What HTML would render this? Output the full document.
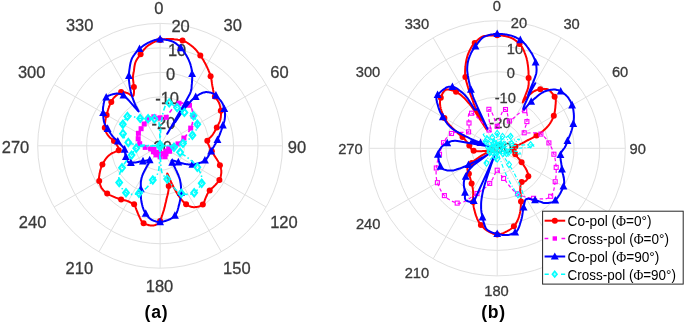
<!DOCTYPE html>
<html><head><meta charset="utf-8"><style>html,body{margin:0;padding:0;background:#fff;}svg{display:block;}</style></head>
<body><svg width="685" height="325" viewBox="0 0 685 325">
<rect width="685" height="325" fill="#fff"/>
<g fill="none" stroke="#e0e0e0" stroke-width="1"><ellipse cx="160.1" cy="145.8" rx="24.48" ry="24.48"/><ellipse cx="160.1" cy="145.8" rx="48.96" ry="48.96"/><ellipse cx="160.1" cy="145.8" rx="73.44" ry="73.44"/><ellipse cx="160.1" cy="145.8" rx="97.92" ry="97.92"/><ellipse cx="160.1" cy="145.8" rx="122.40" ry="122.40"/><line x1="160.1" y1="145.8" x2="160.10" y2="23.40"/><line x1="160.1" y1="145.8" x2="221.30" y2="39.80"/><line x1="160.1" y1="145.8" x2="266.10" y2="84.60"/><line x1="160.1" y1="145.8" x2="282.50" y2="145.80"/><line x1="160.1" y1="145.8" x2="266.10" y2="207.00"/><line x1="160.1" y1="145.8" x2="221.30" y2="251.80"/><line x1="160.1" y1="145.8" x2="160.10" y2="268.20"/><line x1="160.1" y1="145.8" x2="98.90" y2="251.80"/><line x1="160.1" y1="145.8" x2="54.10" y2="207.00"/><line x1="160.1" y1="145.8" x2="37.70" y2="145.80"/><line x1="160.1" y1="145.8" x2="54.10" y2="84.60"/><line x1="160.1" y1="145.8" x2="98.90" y2="39.80"/></g><g fill="none" stroke="#e0e0e0" stroke-width="1"><ellipse cx="497.2" cy="148.3" rx="25.62" ry="25.52"/><ellipse cx="497.2" cy="148.3" rx="51.24" ry="51.04"/><ellipse cx="497.2" cy="148.3" rx="76.86" ry="76.56"/><ellipse cx="497.2" cy="148.3" rx="102.48" ry="102.08"/><ellipse cx="497.2" cy="148.3" rx="128.10" ry="127.60"/><line x1="497.2" y1="148.3" x2="497.20" y2="20.70"/><line x1="497.2" y1="148.3" x2="561.25" y2="37.80"/><line x1="497.2" y1="148.3" x2="608.14" y2="84.50"/><line x1="497.2" y1="148.3" x2="625.30" y2="148.30"/><line x1="497.2" y1="148.3" x2="608.14" y2="212.10"/><line x1="497.2" y1="148.3" x2="561.25" y2="258.80"/><line x1="497.2" y1="148.3" x2="497.20" y2="275.90"/><line x1="497.2" y1="148.3" x2="433.15" y2="258.80"/><line x1="497.2" y1="148.3" x2="386.26" y2="212.10"/><line x1="497.2" y1="148.3" x2="369.10" y2="148.30"/><line x1="497.2" y1="148.3" x2="386.26" y2="84.50"/><line x1="497.2" y1="148.3" x2="433.15" y2="37.80"/></g><g font-family="Liberation Sans, Arial, sans-serif" font-size="17.2" fill="#3a3a3a" stroke="#3a3a3a" stroke-width="0.3" text-anchor="middle"><text transform="translate(158.90,13.51) scale(0.96,1)" x="0" y="0">0</text><text transform="translate(232.70,30.86) scale(0.96,1)" x="0" y="0">30</text><text transform="translate(279.50,78.36) scale(0.96,1)" x="0" y="0">60</text><text transform="translate(297.00,153.06) scale(0.96,1)" x="0" y="0">90</text><text transform="translate(283.90,228.06) scale(0.96,1)" x="0" y="0">120</text><text transform="translate(236.80,274.46) scale(0.96,1)" x="0" y="0">150</text><text transform="translate(159.50,292.01) scale(0.96,1)" x="0" y="0">180</text><text transform="translate(79.30,274.46) scale(0.96,1)" x="0" y="0">210</text><text transform="translate(32.60,228.06) scale(0.96,1)" x="0" y="0">240</text><text transform="translate(15.50,153.06) scale(0.96,1)" x="0" y="0">270</text><text transform="translate(31.70,78.36) scale(0.96,1)" x="0" y="0">300</text><text transform="translate(79.70,31.16) scale(0.96,1)" x="0" y="0">330</text><text transform="translate(180.60,32.16) scale(0.96,1)" x="0" y="0">20</text><text transform="translate(177.10,56.46) scale(0.96,1)" x="0" y="0">10</text><text transform="translate(170.70,80.46) scale(0.96,1)" x="0" y="0">0</text><text transform="translate(167.10,104.06) scale(0.96,1)" x="0" y="0">-10</text><text transform="translate(163.40,129.36) scale(0.96,1)" x="0" y="0">-20</text><text transform="translate(160.00,153.16) scale(0.96,1)" x="0" y="0">-30</text></g><g font-family="Liberation Sans, Arial, sans-serif" font-size="15.0" fill="#3a3a3a" stroke="#3a3a3a" stroke-width="0.3" text-anchor="middle"><text transform="translate(496.90,11.47) scale(0.98,1)" x="0" y="0">0</text><text transform="translate(571.60,28.77) scale(0.98,1)" x="0" y="0">30</text><text transform="translate(620.10,76.97) scale(0.98,1)" x="0" y="0">60</text><text transform="translate(637.70,153.97) scale(0.98,1)" x="0" y="0">90</text><text transform="translate(624.30,229.37) scale(0.98,1)" x="0" y="0">120</text><text transform="translate(575.60,278.37) scale(0.98,1)" x="0" y="0">150</text><text transform="translate(496.50,295.57) scale(0.98,1)" x="0" y="0">180</text><text transform="translate(416.90,277.77) scale(0.98,1)" x="0" y="0">210</text><text transform="translate(368.20,229.47) scale(0.98,1)" x="0" y="0">240</text><text transform="translate(350.40,154.17) scale(0.98,1)" x="0" y="0">270</text><text transform="translate(368.00,76.67) scale(0.98,1)" x="0" y="0">300</text><text transform="translate(416.90,28.87) scale(0.98,1)" x="0" y="0">330</text><text transform="translate(518.90,27.77) scale(0.98,1)" x="0" y="0">20</text><text transform="translate(515.00,53.97) scale(0.98,1)" x="0" y="0">10</text><text transform="translate(510.80,77.77) scale(0.98,1)" x="0" y="0">0</text><text transform="translate(505.30,103.27) scale(0.98,1)" x="0" y="0">-10</text><text transform="translate(500.00,128.07) scale(0.98,1)" x="0" y="0">-20</text><text transform="translate(501.00,152.87) scale(0.98,1)" x="0" y="0">-30</text></g><path d="M160.1,40.1 161.0,39.9 162.0,39.7 162.9,39.6 163.8,39.4 164.7,39.3 165.7,39.2 166.6,39.1 167.6,39.1 168.5,39.0 169.4,39.0 170.4,39.0 171.3,39.0 172.3,39.1 173.2,39.1 173.7,39.2 174.1,39.3 175.1,39.4 176.0,39.5 176.9,39.6 177.8,39.8 178.8,39.9 179.7,40.1 180.6,40.3 181.5,40.4 182.3,40.6 182.5,40.6 183.4,40.9 184.3,41.2 185.1,41.6 186.0,42.0 186.8,42.5 187.6,43.0 188.5,43.6 189.3,44.1 190.0,44.7 190.8,45.3 191.6,45.9 192.1,46.3 192.4,46.5 193.1,47.1 193.8,47.8 194.6,48.5 195.3,49.2 195.9,49.9 196.6,50.7 197.2,51.5 197.9,52.3 198.5,53.1 199.1,53.9 199.7,54.7 200.3,55.5 200.3,55.5 200.9,56.3 201.4,57.1 202.0,58.0 202.5,58.8 203.1,59.6 203.6,60.5 204.1,61.4 204.5,62.2 205.0,63.1 205.5,64.0 205.9,64.8 206.3,65.7 206.4,65.8 206.8,66.6 207.2,67.4 207.6,68.3 208.0,69.2 208.4,70.0 208.7,70.9 209.1,71.8 209.4,72.7 209.8,73.6 210.1,74.4 210.4,75.3 210.6,76.3 210.7,76.5 210.9,77.2 211.1,78.1 211.3,79.1 211.5,80.0 211.6,81.0 211.8,82.0 211.9,83.0 212.0,83.9 212.2,84.8 212.3,85.7 212.5,86.6 212.6,87.2 212.7,87.4 212.8,88.3 213.0,89.1 213.1,89.9 213.3,90.7 213.4,91.6 213.5,92.4 213.7,93.1 213.9,93.9 214.1,94.6 214.3,95.3 214.6,95.9 214.9,96.5 215.0,96.7 215.2,97.0 215.6,97.6 215.9,98.1 216.3,98.6 216.7,99.2 217.1,99.7 217.4,100.2 217.8,100.7 218.1,101.3 218.4,101.8 218.7,102.3 218.8,102.4 219.0,103.0 219.3,103.6 219.5,104.2 219.7,104.8 219.9,105.5 220.1,106.1 220.2,106.8 220.3,107.4 220.4,108.1 220.5,108.8 220.6,109.4 220.7,110.1 220.8,110.8 220.8,111.2 220.8,111.4 220.9,112.1 220.9,112.8 221.0,113.4 221.0,114.1 221.0,114.8 220.9,115.5 220.9,116.1 220.8,116.8 220.8,117.5 220.6,118.2 220.5,118.9 220.5,119.0 220.4,119.6 220.1,120.3 219.9,121.0 219.6,121.8 219.3,122.5 218.9,123.2 218.6,123.9 218.2,124.7 217.8,125.4 217.5,126.0 217.2,126.6 217.1,126.7 216.8,127.4 216.5,128.0 216.2,128.7 215.9,129.3 215.5,129.9 215.2,130.5 214.9,131.1 214.5,131.7 214.2,132.3 213.8,132.9 213.5,133.5 213.1,134.0 212.7,134.6 212.6,134.8 212.3,135.2 211.9,135.7 211.3,136.3 210.8,136.9 210.2,137.4 209.6,138.0 209.1,138.5 208.6,139.0 208.1,139.5 207.7,140.0 207.5,140.4 207.3,140.8 207.3,141.2 207.3,141.3 207.4,141.7 207.4,142.1 207.6,142.5 207.7,142.9 207.8,143.3 208.0,143.7 208.2,144.1 208.4,144.5 208.6,145.0 208.8,145.4 209.0,145.8 209.2,146.2 209.4,146.7 209.5,147.0 209.5,147.1 209.7,147.5 209.9,148.0 210.2,148.4 210.4,148.9 210.7,149.3 210.9,149.8 211.2,150.3 211.5,150.7 211.8,151.2 212.1,151.7 212.4,152.2 212.7,152.7 213.0,153.2 213.3,153.7 213.6,154.3 213.9,154.8 214.0,155.0 214.2,155.3 214.5,155.9 214.9,156.4 215.3,157.0 215.7,157.6 216.1,158.2 216.5,158.8 216.9,159.4 217.3,160.1 217.7,160.7 218.1,161.3 218.4,162.0 218.8,162.6 219.1,163.3 219.4,163.9 219.7,164.6 219.9,165.2 220.0,165.4 220.2,165.9 220.4,166.6 220.6,167.2 220.7,167.9 220.9,168.5 221.1,169.2 221.2,169.9 221.3,170.5 221.3,171.2 221.3,171.8 221.3,172.4 221.3,172.5 221.3,173.0 221.2,173.6 221.1,174.3 221.0,174.9 220.9,175.5 220.8,176.1 220.7,176.7 220.5,177.3 220.4,177.8 220.2,178.4 219.9,179.0 219.7,179.5 219.5,179.8 219.4,180.0 219.1,180.5 218.7,181.0 218.4,181.5 218.0,182.0 217.6,182.4 217.2,182.9 216.8,183.3 216.4,183.8 216.0,184.2 215.6,184.7 215.2,185.1 214.8,185.5 214.8,185.5 214.4,186.0 213.9,186.4 213.5,186.8 213.1,187.2 212.6,187.6 212.2,188.0 211.8,188.4 211.3,188.8 210.9,189.2 210.5,189.6 210.1,190.0 209.7,190.4 209.5,190.6 209.3,190.9 208.9,191.3 208.6,191.8 208.3,192.3 208.0,192.9 207.7,193.4 207.4,194.0 207.2,194.5 206.9,195.1 206.7,195.7 206.4,196.3 206.1,196.9 205.8,197.5 205.6,198.0 205.6,198.1 205.3,198.7 205.1,199.4 204.8,200.1 204.6,200.8 204.4,201.5 204.2,202.2 203.9,202.9 203.6,203.5 203.2,204.1 202.8,204.6 202.5,204.8 202.3,204.9 201.8,205.3 201.2,205.6 200.6,205.9 200.0,206.1 199.4,206.3 198.8,206.5 198.1,206.7 197.5,206.8 196.8,206.9 196.2,207.0 195.5,207.1 194.8,207.2 194.2,207.2 194.1,207.2 193.4,207.2 192.7,207.1 192.0,207.0 191.2,206.8 190.4,206.5 189.6,206.2 188.7,205.8 187.9,205.4 187.0,204.8 186.1,204.3 185.2,203.6 185.2,203.6 184.3,202.8 183.3,201.8 182.2,200.5 181.1,199.1 180.0,197.6 178.9,196.1 178.5,195.5 177.8,194.5 176.7,192.7 175.6,190.7 174.5,188.7 173.4,186.7 172.4,184.7 172.0,184.0 171.4,182.8 170.4,180.5 169.4,178.1 168.5,175.9 167.7,174.3 167.3,173.5 167.2,173.5 167.2,174.1 167.4,176.4 167.9,179.6 168.4,183.1 168.7,186.1 168.7,187.2 168.7,188.0 168.6,189.5 168.4,190.8 168.2,192.0 168.0,193.1 167.8,194.1 167.5,195.2 167.2,196.2 166.9,197.4 166.6,198.6 166.5,199.0 166.3,200.0 166.0,201.5 165.6,203.0 165.2,204.6 164.9,206.3 164.4,207.9 164.0,209.6 163.5,211.2 163.0,212.8 162.6,214.0 162.5,214.3 161.9,215.9 161.4,217.7 160.7,219.4 160.1,221.0 159.4,222.3 158.7,223.2 158.4,223.5 158.1,223.7 157.4,224.1 156.7,224.4 156.0,224.7 155.3,225.0 154.5,225.2 153.8,225.4 153.1,225.5 152.4,225.5 151.7,225.6 151.0,225.5 151.0,225.5 150.3,225.4 149.6,225.3 148.9,225.2 148.3,225.0 147.6,224.8 146.9,224.6 146.2,224.4 145.6,224.1 144.9,223.8 144.3,223.5 143.6,223.2 143.2,223.0 143.0,222.9 142.4,222.4 141.9,221.7 141.4,220.9 140.9,220.0 140.5,219.1 140.0,218.1 139.6,217.2 139.5,217.0 139.2,216.4 138.8,215.5 138.4,214.6 138.0,213.7 137.7,212.9 137.3,212.0 137.0,211.1 136.6,210.3 136.5,210.0 136.3,209.5 136.0,208.6 135.7,207.7 135.5,206.8 135.2,206.0 134.9,205.2 134.5,204.6 134.1,204.2 133.9,204.1 133.6,204.0 133.1,203.7 132.6,203.5 132.1,203.3 131.6,203.0 131.1,202.8 130.6,202.5 130.1,202.3 129.6,202.0 129.1,201.8 128.8,201.6 128.6,201.5 128.1,201.3 127.5,201.1 127.0,200.9 126.4,200.7 125.9,200.6 125.3,200.5 124.7,200.3 124.1,200.2 123.5,200.1 122.9,200.0 122.3,199.9 121.6,199.7 121.1,199.5 120.6,199.4 120.5,199.4 119.9,199.2 119.3,199.0 118.7,198.8 118.1,198.5 117.6,198.3 117.0,198.1 116.4,197.9 115.8,197.7 115.2,197.4 114.7,197.2 114.5,197.1 114.1,196.9 113.5,196.7 112.9,196.4 112.3,196.2 111.7,195.9 111.1,195.6 110.5,195.4 109.9,195.1 109.4,194.8 108.8,194.5 108.3,194.1 107.7,193.8 107.2,193.4 107.0,193.3 106.7,193.1 106.2,192.7 105.7,192.3 105.2,191.9 104.7,191.5 104.2,191.1 103.7,190.6 103.3,190.2 102.9,189.7 102.5,189.2 102.2,188.9 102.1,188.7 101.7,188.2 101.4,187.7 101.1,187.1 100.8,186.5 100.6,185.9 100.4,185.3 100.2,184.7 100.0,184.1 99.8,183.5 99.6,182.9 99.5,182.2 99.3,181.6 99.2,181.0 99.2,180.9 99.1,180.3 99.0,179.7 99.0,179.0 99.0,178.3 99.0,177.6 99.1,176.9 99.2,176.2 99.3,175.5 99.4,174.8 99.5,174.0 99.7,173.3 99.8,172.7 99.8,172.6 99.9,172.0 100.1,171.3 100.2,170.6 100.4,169.9 100.6,169.2 100.8,168.6 101.0,167.9 101.3,167.2 101.5,166.5 101.8,165.9 102.1,165.2 102.3,164.8 102.4,164.5 102.7,163.9 103.1,163.2 103.4,162.6 103.8,161.9 104.2,161.3 104.5,160.7 104.9,160.1 105.4,159.4 105.8,158.8 106.3,158.2 106.8,157.6 107.3,157.0 107.9,156.4 108.5,155.8 109.1,155.2 109.8,154.7 110.4,154.2 110.5,154.1 111.5,153.5 112.8,152.9 114.2,152.3 115.6,151.7 116.9,151.1 118.0,150.6 118.7,150.2 118.9,149.8 118.9,149.8 118.8,149.4 118.8,149.1 118.7,148.7 118.6,148.3 118.5,148.0 118.3,147.6 118.1,147.3 118.0,146.9 117.8,146.5 117.6,146.2 117.3,145.8 117.1,145.4 116.9,145.0 116.6,144.7 116.4,144.3 116.1,143.9 115.8,143.5 115.5,143.1 115.3,142.7 115.0,142.2 114.7,141.8 114.4,141.4 114.4,141.4 114.0,141.0 113.6,140.5 113.0,140.0 112.4,139.5 111.8,139.0 111.1,138.5 110.4,137.9 109.8,137.4 109.2,136.8 108.7,136.3 108.5,136.0 108.3,135.7 107.9,135.2 107.5,134.6 107.2,134.1 106.8,133.5 106.5,132.9 106.2,132.4 105.9,131.8 105.6,131.2 105.4,130.6 105.2,130.1 105.1,129.5 104.9,128.9 104.9,128.7 104.9,128.4 104.8,127.8 104.8,127.3 104.8,126.7 104.8,126.2 104.8,125.7 104.8,125.1 104.8,124.6 104.9,124.1 105.0,123.5 105.0,123.0 105.1,122.5 105.2,121.9 105.2,121.4 105.3,121.0 105.3,120.8 105.4,120.3 105.5,119.8 105.6,119.2 105.7,118.7 105.8,118.1 105.9,117.6 106.1,117.1 106.2,116.5 106.3,116.0 106.5,115.5 106.6,114.9 106.8,114.4 106.8,114.2 106.9,113.8 107.0,113.3 107.2,112.7 107.3,112.2 107.5,111.6 107.7,111.1 107.8,110.5 108.0,110.0 108.2,109.4 108.3,108.9 108.5,108.3 108.7,107.8 108.9,107.2 109.0,107.0 109.1,106.7 109.3,106.1 109.5,105.6 109.8,105.0 110.0,104.5 110.2,104.0 110.5,103.4 110.7,102.9 111.0,102.4 111.1,102.2 111.3,101.9 111.6,101.3 111.9,100.8 112.2,100.3 112.5,99.8 112.8,99.3 113.1,98.8 113.4,98.3 113.8,97.9 114.2,97.4 114.6,97.0 114.8,96.8 115.0,96.6 115.5,96.2 115.9,95.8 116.3,95.5 116.8,95.1 117.2,94.7 117.7,94.4 118.2,94.0 118.6,93.7 119.1,93.3 119.6,93.0 120.1,92.7 120.6,92.4 120.8,92.2 121.1,92.1 121.7,91.9 122.3,91.9 123.1,91.9 123.9,92.1 124.7,92.3 125.5,92.5 126.3,92.8 127.0,93.0 127.1,93.0 128.0,93.4 129.0,94.0 130.0,94.7 130.9,95.3 131.8,95.8 132.5,96.0 133.0,96.0 133.0,96.0 133.4,95.6 133.7,95.0 133.8,94.2 133.9,93.3 134.0,92.2 134.0,91.0 134.0,89.7 133.9,88.4 133.9,87.0 133.9,86.2 133.9,85.4 133.5,83.2 133.2,80.8 132.9,78.5 132.9,78.0 132.9,76.8 133.1,75.4 133.3,74.1 133.5,72.8 133.8,71.5 133.9,70.9 134.0,70.1 134.2,68.4 134.4,66.8 134.7,65.2 135.0,63.7 135.3,62.7 135.4,62.4 135.9,61.3 136.4,60.3 136.9,59.4 137.5,58.5 138.1,57.6 138.7,56.8 139.4,55.9 140.0,55.1 140.4,54.5 140.6,54.2 141.3,53.3 141.9,52.3 142.6,51.4 143.3,50.5 144.0,49.6 144.7,48.7 145.5,47.9 146.2,47.1 147.0,46.4 147.2,46.3 147.8,45.8 148.6,45.2 149.5,44.7 150.3,44.1 151.2,43.6 152.0,43.1 152.9,42.6 153.8,42.2 154.6,41.8 155.5,41.4 156.4,41.0 157.3,40.7 158.3,40.5 159.2,40.2 159.4,40.2Z" fill="none" stroke="#ff0000" stroke-width="2" stroke-linejoin="round"/><circle cx="160.1" cy="40.1" r="3.00" fill="#ff0000"/><circle cx="182.5" cy="40.6" r="3.00" fill="#ff0000"/><circle cx="200.3" cy="55.5" r="3.00" fill="#ff0000"/><circle cx="210.6" cy="76.3" r="3.00" fill="#ff0000"/><circle cx="214.9" cy="96.5" r="3.00" fill="#ff0000"/><circle cx="220.8" cy="110.8" r="3.00" fill="#ff0000"/><circle cx="216.8" cy="127.4" r="3.00" fill="#ff0000"/><circle cx="207.3" cy="140.8" r="3.00" fill="#ff0000"/><circle cx="211.8" cy="151.2" r="3.00" fill="#ff0000"/><circle cx="219.9" cy="165.2" r="3.00" fill="#ff0000"/><circle cx="219.4" cy="180.0" r="3.00" fill="#ff0000"/><circle cx="209.7" cy="190.4" r="3.00" fill="#ff0000"/><circle cx="202.8" cy="204.6" r="3.00" fill="#ff0000"/><circle cx="186.1" cy="204.3" r="3.00" fill="#ff0000"/><circle cx="168.7" cy="186.1" r="3.00" fill="#ff0000"/><circle cx="160.1" cy="221.0" r="3.00" fill="#ff0000"/><circle cx="143.6" cy="223.2" r="3.00" fill="#ff0000"/><circle cx="134.1" cy="204.2" r="3.00" fill="#ff0000"/><circle cx="121.1" cy="199.5" r="3.00" fill="#ff0000"/><circle cx="107.2" cy="193.4" r="3.00" fill="#ff0000"/><circle cx="99.2" cy="181.0" r="3.00" fill="#ff0000"/><circle cx="102.4" cy="164.5" r="3.00" fill="#ff0000"/><circle cx="118.7" cy="150.2" r="3.00" fill="#ff0000"/><circle cx="114.0" cy="141.0" r="3.00" fill="#ff0000"/><circle cx="104.8" cy="127.8" r="3.00" fill="#ff0000"/><circle cx="106.6" cy="114.9" r="3.00" fill="#ff0000"/><circle cx="111.3" cy="101.9" r="3.00" fill="#ff0000"/><circle cx="121.1" cy="92.1" r="3.00" fill="#ff0000"/><circle cx="133.9" cy="87.0" r="3.00" fill="#ff0000"/><circle cx="140.6" cy="54.2" r="3.00" fill="#ff0000"/><path d="M160.1,117.8 160.6,118.0 161.1,118.3 161.5,118.7 162.0,119.0 162.4,119.4 162.8,119.7 163.3,119.9 163.7,120.1 164.2,119.9 164.8,119.3 165.4,118.4 166.2,117.3 167.0,116.0 167.9,114.6 168.8,113.3 169.7,112.2 170.8,110.9 171.9,109.4 173.2,107.8 174.5,106.2 175.8,104.9 177.0,103.9 178.1,103.5 179.0,103.3 180.0,103.2 180.9,103.1 181.9,103.1 182.8,103.1 183.7,103.2 184.6,103.3 185.5,103.5 186.4,103.8 187.2,104.1 188.0,104.4 188.8,104.9 189.5,105.3 190.1,105.9 190.7,106.6 191.2,107.4 191.6,108.3 191.9,109.2 192.2,110.1 192.4,111.1 192.6,112.1 192.8,113.1 192.9,114.1 193.0,115.1 193.1,116.1 193.1,117.1 193.1,118.1 193.1,119.1 193.0,120.1 192.8,121.2 192.6,122.2 192.4,123.2 192.1,124.2 191.8,125.2 191.5,126.2 191.1,127.2 190.7,128.1 190.2,129.1 189.7,130.0 189.2,131.0 188.6,131.9 188.1,132.8 187.5,133.6 186.9,134.4 186.3,135.2 185.7,136.0 185.0,136.7 184.4,137.4 183.9,138.1 183.4,138.7 182.8,139.3 182.3,139.8 181.9,140.4 181.4,140.9 180.9,141.4 180.4,141.9 179.9,142.3 179.5,142.7 179.0,143.1 178.5,143.5 178.0,143.9 177.5,144.3 177.0,144.6 176.4,144.9 175.9,145.2 175.3,145.5 174.8,145.8 174.3,146.0 173.8,146.3 173.3,146.5 172.8,146.7 172.4,146.9 172.0,147.1 171.7,147.2 171.3,147.4 170.9,147.5 170.6,147.6 170.2,147.8 169.9,147.9 169.6,148.0 169.3,148.1 169.1,148.2 168.9,148.3 168.7,148.4 168.7,148.6 168.6,148.7 168.7,148.9 168.8,149.1 168.9,149.4 169.1,149.6 169.2,149.9 169.4,150.1 169.5,150.4 169.6,150.7 169.7,150.9 169.7,151.1 169.6,151.3 169.5,151.4 169.2,151.5 168.9,151.5 168.6,151.5 168.2,151.5 167.8,151.4 167.4,151.3 167.0,151.2 166.7,151.1 166.4,151.1 166.2,151.1 166.0,151.2 166.0,151.3 165.9,151.4 165.9,151.6 165.9,151.8 165.9,152.1 166.0,152.3 166.0,152.6 166.0,152.8 166.0,153.1 166.0,153.4 166.0,153.6 166.0,153.9 165.9,154.1 165.9,154.4 165.9,154.7 165.8,155.0 165.8,155.3 165.7,155.5 165.7,155.8 165.6,156.1 165.4,156.3 165.3,156.5 165.2,156.7 165.0,156.8 164.8,156.8 164.5,156.7 164.2,156.4 163.8,156.1 163.5,155.7 163.2,155.3 162.9,154.9 162.6,154.5 162.3,154.1 162.1,153.8 161.9,153.7 161.8,153.6 161.6,153.7 161.5,153.9 161.4,154.2 161.3,154.5 161.2,154.9 161.1,155.2 161.0,155.6 160.8,156.0 160.7,156.3 160.5,156.6 160.3,156.7 160.1,156.8 159.9,156.7 159.7,156.5 159.6,156.2 159.4,155.7 159.3,155.3 159.2,154.8 159.1,154.2 159.0,153.8 158.9,153.3 158.8,153.0 158.7,152.7 158.6,152.6 158.5,152.7 158.4,152.8 158.2,153.0 158.0,153.3 157.7,153.6 157.5,153.9 157.2,154.2 156.9,154.5 156.7,154.7 156.4,154.9 156.2,155.0 156.0,154.9 155.9,154.8 155.8,154.7 155.7,154.4 155.6,154.2 155.6,153.9 155.6,153.6 155.6,153.3 155.6,153.0 155.6,152.8 155.5,152.6 155.5,152.4 155.4,152.3 155.3,152.2 155.1,152.2 155.0,152.1 154.8,152.1 154.6,152.1 154.4,152.1 154.2,152.1 154.0,152.1 153.8,152.1 153.7,152.0 153.5,151.9 153.4,151.8 153.3,151.7 153.3,151.5 153.3,151.3 153.4,151.0 153.5,150.8 153.6,150.5 153.7,150.2 153.9,150.0 154.0,149.8 154.0,149.6 154.1,149.4 154.0,149.3 153.9,149.2 153.8,149.2 153.6,149.1 153.4,149.1 153.1,149.1 152.8,149.1 152.4,149.1 152.1,149.0 151.7,149.0 151.3,149.0 150.9,149.0 150.6,148.9 150.2,148.8 149.8,148.7 149.4,148.7 149.0,148.6 148.6,148.5 148.1,148.3 147.7,148.2 147.2,148.1 146.7,147.9 146.2,147.7 145.7,147.6 145.2,147.4 144.6,147.2 144.1,146.9 143.5,146.7 142.9,146.4 142.3,146.1 141.8,145.8 141.3,145.5 140.9,145.1 140.5,144.8 140.1,144.4 139.9,144.0 139.7,143.7 139.5,143.3 139.3,142.9 139.2,142.5 139.0,142.1 138.9,141.7 138.8,141.3 138.7,140.9 138.7,140.5 138.6,140.0 138.5,139.6 138.3,139.2 138.2,138.7 138.0,138.2 137.8,137.7 137.5,137.1 137.3,136.6 137.2,136.1 137.3,135.6 137.4,135.2 137.6,134.8 137.8,134.5 138.0,134.1 138.2,133.7 138.4,133.3 138.7,132.9 138.9,132.6 139.1,132.2 139.4,131.8 139.6,131.4 139.8,131.1 140.0,130.7 140.2,130.3 140.4,129.9 140.7,129.5 140.9,129.1 141.1,128.7 141.3,128.3 141.5,127.9 141.8,127.5 142.0,127.1 142.3,126.7 142.6,126.3 142.8,125.9 143.1,125.5 143.4,125.1 143.7,124.8 143.9,124.4 144.2,124.0 144.5,123.5 144.8,123.1 145.1,122.7 145.4,122.2 145.7,121.8 146.0,121.4 146.3,120.9 146.7,120.5 147.0,120.1 147.4,119.7 147.8,119.4 148.2,119.0 148.6,118.6 149.0,118.3 149.4,118.0 149.9,117.7 150.3,117.5 150.8,117.3 151.3,117.1 151.8,117.0 152.4,116.9 152.9,116.8 153.4,116.8 153.9,116.8 154.5,116.7 155.0,116.8 155.5,116.8 156.0,116.9 156.6,116.9 157.1,117.0 157.6,117.1 158.1,117.2 158.6,117.4 159.1,117.5 159.6,117.6Z" fill="none" stroke="#ff00ff" stroke-width="1.6" stroke-linejoin="round" stroke-dasharray="4 3"/><rect x="157.6" y="115.3" width="5.0" height="5.0" fill="#ff00ff"/><rect x="163.7" y="114.8" width="5.0" height="5.0" fill="#ff00ff"/><rect x="176.5" y="100.8" width="5.0" height="5.0" fill="#ff00ff"/><rect x="187.0" y="102.8" width="5.0" height="5.0" fill="#ff00ff"/><rect x="190.6" y="113.6" width="5.0" height="5.0" fill="#ff00ff"/><rect x="188.2" y="125.6" width="5.0" height="5.0" fill="#ff00ff"/><rect x="181.4" y="135.6" width="5.0" height="5.0" fill="#ff00ff"/><rect x="175.5" y="141.4" width="5.0" height="5.0" fill="#ff00ff"/><rect x="169.5" y="144.6" width="5.0" height="5.0" fill="#ff00ff"/><rect x="166.2" y="146.1" width="5.0" height="5.0" fill="#ff00ff"/><rect x="167.1" y="148.8" width="5.0" height="5.0" fill="#ff00ff"/><rect x="163.5" y="148.7" width="5.0" height="5.0" fill="#ff00ff"/><rect x="163.5" y="151.4" width="5.0" height="5.0" fill="#ff00ff"/><rect x="162.5" y="154.3" width="5.0" height="5.0" fill="#ff00ff"/><rect x="159.3" y="151.1" width="5.0" height="5.0" fill="#ff00ff"/><rect x="157.6" y="154.3" width="5.0" height="5.0" fill="#ff00ff"/><rect x="156.1" y="150.1" width="5.0" height="5.0" fill="#ff00ff"/><rect x="153.5" y="152.4" width="5.0" height="5.0" fill="#ff00ff"/><rect x="152.9" y="149.8" width="5.0" height="5.0" fill="#ff00ff"/><rect x="150.9" y="149.3" width="5.0" height="5.0" fill="#ff00ff"/><rect x="151.5" y="146.8" width="5.0" height="5.0" fill="#ff00ff"/><rect x="148.1" y="146.4" width="5.0" height="5.0" fill="#ff00ff"/><rect x="142.7" y="144.9" width="5.0" height="5.0" fill="#ff00ff"/><rect x="137.2" y="141.2" width="5.0" height="5.0" fill="#ff00ff"/><rect x="135.7" y="136.2" width="5.0" height="5.0" fill="#ff00ff"/><rect x="135.9" y="130.8" width="5.0" height="5.0" fill="#ff00ff"/><rect x="138.6" y="126.2" width="5.0" height="5.0" fill="#ff00ff"/><rect x="141.7" y="121.5" width="5.0" height="5.0" fill="#ff00ff"/><rect x="145.7" y="116.5" width="5.0" height="5.0" fill="#ff00ff"/><rect x="151.4" y="114.3" width="5.0" height="5.0" fill="#ff00ff"/><path d="M160.1,39.2 161.0,39.2 162.0,39.3 162.9,39.3 163.8,39.4 164.7,39.6 165.7,39.7 166.6,39.9 167.5,40.1 168.4,40.3 169.3,40.5 170.2,40.8 171.1,41.0 171.7,41.2 172.0,41.3 172.9,41.6 173.8,42.1 174.6,42.6 175.4,43.1 176.3,43.7 177.1,44.4 177.9,45.0 178.6,45.8 179.4,46.5 180.2,47.2 180.9,48.0 181.3,48.4 181.6,48.7 182.3,49.5 183.0,50.4 183.7,51.2 184.3,52.2 184.9,53.1 185.5,54.1 186.1,55.0 186.7,56.0 187.0,56.6 187.2,57.0 187.8,58.1 188.3,59.1 188.8,60.1 189.2,61.2 189.7,62.3 190.1,63.4 190.5,64.6 190.8,65.8 191.1,66.8 191.1,67.0 191.4,68.3 191.7,69.6 191.8,71.0 192.0,72.5 192.1,73.9 192.1,73.9 192.2,75.4 192.2,76.9 192.2,78.5 192.1,80.1 192.0,81.7 191.9,83.4 191.7,85.1 191.7,85.2 191.6,86.5 191.6,87.8 191.4,89.3 190.8,91.5 190.1,93.4 186.1,100.7 168.3,131.9 167.2,133.8 185.4,103.6 185.0,104.4 171.9,126.5 172.2,126.1 179.5,114.6 182.2,110.5 187.9,101.9 180.0,114.5 175.2,122.2 181.8,112.3 182.0,112.1 185.4,107.5 188.3,104.0 190.7,101.3 192.6,99.4 194.2,98.0 195.6,96.9 195.7,96.9 197.1,95.8 198.4,95.0 199.7,94.2 200.9,93.6 202.1,93.0 203.1,92.6 204.2,92.4 205.1,92.2 206.0,92.1 206.4,92.1 206.8,92.1 207.5,92.2 208.3,92.2 209.1,92.4 209.8,92.5 210.5,92.6 211.2,92.8 211.9,93.1 212.6,93.3 213.2,93.6 213.8,93.9 214.4,94.3 215.0,94.6 215.5,95.1 215.6,95.2 215.9,95.5 216.4,96.0 216.9,96.4 217.3,96.9 217.8,97.4 218.2,97.9 218.7,98.4 219.1,98.9 219.5,99.4 220.0,99.9 220.4,100.4 220.8,100.9 221.2,101.4 221.6,102.0 221.8,102.3 221.9,102.5 222.3,103.1 222.6,103.6 222.9,104.3 223.1,104.9 223.4,105.5 223.6,106.1 223.7,106.8 223.9,107.5 224.1,108.1 224.2,108.8 224.4,109.4 224.4,109.5 224.5,110.1 224.7,110.8 224.8,111.4 224.8,112.1 224.9,112.8 225.0,113.5 225.0,114.2 225.0,114.8 225.0,115.5 225.0,116.2 225.0,116.9 224.9,117.6 224.8,118.3 224.8,118.7 224.8,119.0 224.6,119.7 224.5,120.4 224.3,121.2 224.1,121.9 223.9,122.6 223.6,123.3 223.4,124.0 223.2,124.7 222.9,125.4 222.8,125.8 222.7,126.1 222.5,126.7 222.3,127.4 222.1,128.0 221.9,128.7 221.7,129.3 221.4,129.9 221.2,130.6 221.0,131.2 220.8,131.8 220.5,132.4 220.3,133.0 220.1,133.6 219.9,134.2 219.6,134.8 219.4,135.3 219.2,135.9 218.9,136.5 218.7,137.0 218.7,137.0 218.4,137.6 218.2,138.2 218.0,138.7 217.7,139.2 217.5,139.8 217.2,140.3 216.9,140.8 216.7,141.3 216.4,141.9 216.2,142.4 215.9,142.9 215.6,143.4 215.4,143.9 215.1,144.4 214.8,144.8 214.5,145.3 214.3,145.8 214.0,146.3 213.7,146.7 213.5,147.2 213.2,147.7 212.9,148.1 212.6,148.6 212.4,149.0 212.1,149.4 211.9,149.9 211.6,150.3 211.3,150.7 211.3,150.8 211.1,151.2 210.8,151.6 210.6,152.0 210.4,152.4 210.1,152.8 209.9,153.2 209.7,153.7 209.5,154.1 209.3,154.5 209.0,154.9 208.8,155.3 208.6,155.7 208.3,156.1 208.1,156.4 207.9,156.8 207.6,157.2 207.4,157.6 207.1,158.0 206.8,158.3 206.6,158.7 206.3,159.0 206.0,159.4 205.6,159.7 205.3,160.1 204.9,160.4 204.8,160.5 204.6,160.7 204.2,161.0 203.8,161.3 203.3,161.5 202.8,161.8 202.3,162.0 201.8,162.2 201.3,162.4 200.8,162.6 200.2,162.8 199.6,163.0 199.1,163.2 198.5,163.3 198.0,163.5 197.4,163.6 196.8,163.7 196.3,163.8 195.7,164.0 195.2,164.1 195.1,164.1 194.7,164.2 194.1,164.3 193.6,164.4 193.0,164.4 192.4,164.5 191.9,164.5 191.3,164.5 190.7,164.5 190.1,164.5 189.4,164.5 188.8,164.5 188.2,164.4 187.6,164.3 187.0,164.3 186.4,164.2 185.7,164.1 185.1,164.0 184.5,163.9 183.9,163.7 183.3,163.6 182.7,163.5 182.1,163.3 181.6,163.2 181.0,163.0 180.4,162.9 179.9,162.7 179.4,162.5 178.8,162.4 178.3,162.2 177.8,162.0 177.3,161.9 176.9,161.7 176.4,161.6 176.0,161.4 175.6,161.3 175.2,161.1 174.8,161.0 174.4,160.9 174.1,160.8 173.7,160.7 173.4,160.6 173.1,160.5 172.8,160.5 172.6,160.4 172.3,160.4 172.1,160.4 171.9,160.4 171.8,160.5 171.6,160.5 171.5,160.6 171.5,160.6 171.5,161.0 171.8,161.6 172.2,162.5 172.8,163.6 173.4,164.9 174.2,166.3 175.0,167.9 175.8,169.6 176.7,171.3 177.4,173.0 178.2,174.7 178.8,176.4 179.4,177.9 179.8,179.3 180.0,180.0 180.1,180.4 180.3,181.6 180.5,182.7 180.7,183.7 180.8,184.8 180.9,185.8 181.0,186.8 181.0,187.8 181.1,188.8 181.1,189.8 181.1,190.8 181.0,191.8 181.0,192.8 181.0,193.0 181.0,193.8 180.9,194.8 180.8,195.8 180.7,196.7 180.5,197.7 180.4,198.7 180.2,199.6 180.0,200.6 179.8,201.6 179.6,202.5 179.4,203.5 179.2,204.4 179.0,205.0 178.9,205.4 178.6,206.4 178.4,207.4 178.1,208.5 177.8,209.6 177.5,210.6 177.1,211.6 176.8,212.6 176.3,213.5 175.9,214.3 175.4,215.0 175.0,215.5 174.9,215.6 174.4,216.1 173.9,216.6 173.3,217.0 172.7,217.5 172.2,217.9 171.6,218.3 171.0,218.6 170.4,219.0 169.8,219.3 169.2,219.6 168.5,219.8 167.9,220.1 167.3,220.3 167.3,220.3 166.6,220.5 166.0,220.7 165.4,221.0 164.7,221.1 164.1,221.3 163.4,221.5 162.7,221.6 162.1,221.8 161.4,221.9 160.8,221.9 160.1,222.0 159.5,222.0 159.4,222.0 158.8,222.0 158.1,221.9 157.4,221.8 156.8,221.7 156.1,221.5 155.5,221.3 154.8,221.1 154.2,220.9 153.5,220.7 152.9,220.4 152.6,220.3 152.3,220.2 151.7,219.8 151.1,219.5 150.5,219.0 149.9,218.6 149.3,218.0 148.7,217.5 148.2,216.9 147.7,216.3 147.2,215.6 146.7,215.0 146.2,214.3 145.7,213.6 145.3,213.0 145.2,212.9 144.8,212.1 144.4,211.3 144.0,210.5 143.6,209.6 143.3,208.7 142.9,207.7 142.6,206.7 142.4,205.7 142.1,204.7 141.9,203.6 141.6,202.6 141.6,202.4 141.4,201.6 141.3,200.5 141.1,199.4 141.0,198.2 140.9,197.1 140.9,195.9 140.8,194.8 140.8,193.6 140.8,192.5 140.8,191.3 140.8,190.2 140.8,189.3 140.8,189.1 140.8,188.1 140.8,187.2 140.8,186.3 140.8,185.4 140.8,184.5 140.8,183.7 140.8,182.8 140.9,181.9 141.0,181.0 141.2,180.0 141.4,178.9 141.6,177.8 142.0,176.6 142.4,175.2 142.5,175.0 143.2,173.4 144.5,170.8 146.1,167.8 147.8,164.8 149.2,162.3 150.1,160.7 150.2,160.3 150.2,160.3 150.0,160.2 149.9,160.1 149.7,160.1 149.5,160.1 149.3,160.1 149.1,160.1 148.9,160.1 148.7,160.1 148.5,160.1 148.2,160.2 148.0,160.2 147.7,160.3 147.5,160.3 147.2,160.4 146.9,160.5 146.6,160.5 146.3,160.6 146.0,160.7 145.7,160.8 145.3,160.8 145.0,160.9 144.7,161.0 144.3,161.0 144.0,161.1 143.7,161.1 143.3,161.2 143.0,161.2 142.6,161.3 142.3,161.3 142.1,161.3 141.9,161.3 141.6,161.3 141.2,161.4 140.7,161.5 140.3,161.6 139.8,161.6 139.3,161.7 138.8,161.8 138.3,162.0 137.7,162.1 137.2,162.2 136.6,162.3 136.0,162.4 135.4,162.4 134.8,162.5 134.3,162.6 133.7,162.6 133.1,162.7 132.5,162.7 132.0,162.7 131.4,162.7 130.9,162.7 130.4,162.6 129.9,162.5 129.5,162.4 129.1,162.3 128.7,162.2 128.3,162.0 128.0,161.8 127.7,161.6 127.5,161.3 127.3,161.1 127.3,161.0 127.2,160.8 127.1,160.5 127.0,160.2 126.8,159.9 126.7,159.6 126.6,159.3 126.5,159.0 126.4,158.7 126.3,158.4 126.2,158.1 126.1,157.8 126.0,157.5 126.0,157.2 125.9,156.9 125.8,156.6 125.7,156.3 125.6,156.0 125.6,155.7 125.5,155.4 125.5,155.1 125.4,154.8 125.3,154.5 125.3,154.2 125.2,153.9 125.2,153.5 125.1,153.2 125.1,152.9 125.0,152.6 125.0,152.3 124.9,152.0 124.9,151.7 124.9,151.4 124.8,151.1 124.8,150.8 124.7,150.5 124.7,150.1 124.7,150.1 124.7,149.8 124.6,149.5 124.5,149.2 124.3,148.9 124.2,148.6 124.0,148.3 123.8,148.0 123.6,147.7 123.3,147.4 123.1,147.1 122.8,146.8 122.5,146.5 122.2,146.1 121.9,145.8 121.6,145.5 121.2,145.1 120.9,144.8 120.6,144.4 120.2,144.1 119.9,143.7 119.6,143.3 119.2,142.9 118.9,142.6 118.6,142.2 118.6,142.2 118.2,141.8 117.8,141.4 117.4,140.9 116.9,140.5 116.5,140.1 116.0,139.6 115.4,139.1 114.9,138.6 114.4,138.2 113.9,137.7 113.4,137.1 112.9,136.6 112.5,136.1 112.4,136.0 112.1,135.6 111.7,135.1 111.3,134.5 110.9,134.0 110.5,133.4 110.2,132.9 109.8,132.3 109.4,131.8 109.1,131.2 108.7,130.6 108.3,130.0 108.3,129.9 108.0,129.4 107.6,128.7 107.1,128.1 106.7,127.4 106.3,126.7 105.9,126.1 105.5,125.4 105.1,124.7 104.8,124.0 104.5,123.3 104.3,122.7 104.3,122.7 104.1,122.0 103.9,121.4 103.8,120.7 103.7,120.1 103.6,119.4 103.5,118.8 103.4,118.2 103.4,117.5 103.3,116.9 103.3,116.2 103.3,115.6 103.2,114.9 103.2,114.6 103.2,114.2 103.1,113.6 103.1,112.9 103.0,112.2 103.0,111.5 103.0,110.8 103.0,110.1 102.9,109.4 103.0,108.7 103.0,108.0 103.1,107.3 103.2,106.7 103.2,106.4 103.3,106.0 103.4,105.3 103.5,104.7 103.6,104.0 103.7,103.3 103.9,102.7 104.0,102.0 104.2,101.3 104.4,100.7 104.6,100.1 104.9,99.5 105.2,98.9 105.5,98.3 105.8,97.8 106.2,97.3 106.3,97.2 106.7,96.8 107.2,96.4 107.7,96.1 108.3,95.8 108.9,95.5 109.6,95.3 110.2,95.1 110.9,94.8 111.6,94.6 112.0,94.5 112.2,94.4 112.9,94.2 113.5,94.1 114.2,93.9 114.9,93.8 115.6,93.7 116.3,93.6 117.1,93.6 117.8,93.6 118.6,93.7 118.8,93.7 119.5,93.8 120.3,94.0 121.3,94.3 122.3,94.7 123.5,95.4 124.7,96.2 124.7,96.2 126.7,98.2 128.9,100.5 129.2,100.8 131.8,103.8 134.0,106.4 134.1,106.5 136.0,108.7 137.7,110.7 138.7,111.5 138.7,111.5 136.9,107.9 135.7,105.6 134.9,103.9 133.7,101.0 132.8,98.4 132.3,97.1 132.0,96.1 131.3,93.9 130.8,91.8 130.4,89.9 130.0,87.9 129.8,86.9 129.7,86.1 129.4,84.2 129.2,82.4 129.0,80.7 128.9,79.0 128.9,77.6 128.9,77.3 128.9,75.7 129.0,74.2 129.1,72.7 129.2,71.2 129.4,69.7 129.6,68.3 129.8,66.8 129.8,66.8 130.0,65.4 130.3,64.0 130.6,62.5 131.0,61.2 131.4,59.9 131.8,58.8 131.9,58.6 132.3,57.7 132.9,56.8 133.5,55.8 134.1,55.0 134.7,54.1 135.3,53.3 136.0,52.5 136.7,51.8 137.3,51.0 138.1,50.3 138.8,49.6 139.0,49.4 139.5,48.9 140.3,48.2 141.0,47.6 141.8,46.9 142.6,46.3 143.3,45.7 144.2,45.1 145.0,44.6 145.8,44.1 146.6,43.6 147.2,43.3 147.5,43.2 148.4,42.7 149.2,42.3 150.1,41.9 151.0,41.5 151.9,41.1 152.8,40.8 153.7,40.4 154.6,40.1 155.5,39.9 156.4,39.6 157.3,39.5 158.2,39.3 159.2,39.2Z" fill="none" stroke="#0000ff" stroke-width="2" stroke-linejoin="round"/><path d="M160.1,34.8L164.0,42.4L156.2,42.4Z" fill="#0000ff"/><path d="M180.9,43.6L184.8,51.2L177.0,51.2Z" fill="#0000ff"/><path d="M192.1,69.5L196.0,77.1L188.2,77.1Z" fill="#0000ff"/><path d="M195.7,92.5L199.6,100.1L191.7,100.1Z" fill="#0000ff"/><path d="M215.9,91.1L219.9,98.7L212.0,98.7Z" fill="#0000ff"/><path d="M224.2,104.4L228.2,112.0L220.3,112.0Z" fill="#0000ff"/><path d="M222.9,121.0L226.8,128.6L219.0,128.6Z" fill="#0000ff"/><path d="M217.5,135.4L221.4,143.0L213.5,143.0Z" fill="#0000ff"/><path d="M211.1,146.8L215.0,154.4L207.2,154.4Z" fill="#0000ff"/><path d="M204.9,156.0L208.9,163.6L201.0,163.6Z" fill="#0000ff"/><path d="M192.4,160.1L196.4,167.7L188.5,167.7Z" fill="#0000ff"/><path d="M178.3,157.8L182.2,165.4L174.4,165.4Z" fill="#0000ff"/><path d="M172.2,158.1L176.1,165.7L168.3,165.7Z" fill="#0000ff"/><path d="M181.0,188.4L184.9,196.0L177.1,196.0Z" fill="#0000ff"/><path d="M174.9,211.2L178.9,218.8L171.0,218.8Z" fill="#0000ff"/><path d="M160.1,217.6L164.0,225.2L156.2,225.2Z" fill="#0000ff"/><path d="M145.7,209.2L149.6,216.8L141.8,216.8Z" fill="#0000ff"/><path d="M140.8,184.7L144.7,192.3L136.9,192.3Z" fill="#0000ff"/><path d="M149.7,155.7L153.6,163.3L145.8,163.3Z" fill="#0000ff"/><path d="M143.0,156.8L146.9,164.4L139.0,164.4Z" fill="#0000ff"/><path d="M130.9,158.3L134.8,165.9L127.0,165.9Z" fill="#0000ff"/><path d="M125.9,152.5L129.8,160.1L122.0,160.1Z" fill="#0000ff"/><path d="M124.6,145.1L128.5,152.7L120.7,152.7Z" fill="#0000ff"/><path d="M117.8,137.0L121.8,144.6L113.9,144.6Z" fill="#0000ff"/><path d="M107.6,124.3L111.5,131.9L103.6,131.9Z" fill="#0000ff"/><path d="M103.1,108.5L107.0,116.1L99.2,116.1Z" fill="#0000ff"/><path d="M106.2,92.9L110.1,100.5L102.3,100.5Z" fill="#0000ff"/><path d="M123.5,91.0L127.4,98.6L119.5,98.6Z" fill="#0000ff"/><path d="M128.9,71.3L132.8,78.9L125.0,78.9Z" fill="#0000ff"/><path d="M139.5,44.5L143.4,52.1L135.6,52.1Z" fill="#0000ff"/><path d="M160.1,144.8 160.2,139.8 160.7,129.7 161.4,121.8 162.1,117.5 162.9,113.4 163.9,109.8 164.9,106.7 165.9,104.4 166.9,102.9 167.7,102.5 168.5,102.6 169.2,102.9 169.9,103.2 170.6,103.5 171.3,103.9 172.0,104.3 172.7,104.7 173.3,105.2 173.9,105.6 174.6,106.0 175.2,106.5 175.8,106.9 176.5,107.2 177.1,107.6 177.7,108.0 178.3,108.5 178.9,108.9 179.5,109.3 180.1,109.7 180.7,110.2 181.3,110.6 181.8,111.0 182.4,111.4 183.0,111.8 183.7,112.2 184.4,112.4 185.2,112.6 186.0,112.7 186.8,112.8 187.7,112.9 188.6,113.0 189.5,113.1 190.4,113.3 191.2,113.6 191.9,114.0 192.5,114.5 193.0,115.1 193.5,115.7 194.0,116.4 194.4,117.0 194.8,117.7 195.2,118.4 195.6,119.1 195.9,119.8 196.2,120.5 196.5,121.3 196.7,122.0 197.0,122.8 197.2,123.5 197.3,124.3 197.4,125.1 197.4,126.0 197.2,126.9 196.9,127.8 196.5,128.8 196.1,129.8 195.5,130.8 194.9,131.7 194.3,132.7 193.7,133.6 193.1,134.5 192.4,135.3 191.8,136.1 191.2,136.9 190.5,137.7 189.7,138.4 189.0,139.1 188.2,139.8 187.4,140.5 186.5,141.1 185.7,141.8 184.8,142.3 183.9,142.9 183.0,143.4 182.2,143.9 181.6,144.3 180.6,144.7 179.1,145.1 169.6,145.6 161.1,145.8 169.6,146.0 178.1,146.4 177.5,146.7 176.1,146.9 174.7,147.1 174.0,147.3 174.1,147.5 174.2,147.8 174.5,148.1 174.9,148.4 175.4,148.8 175.9,149.2 176.5,149.6 177.2,150.1 177.9,150.6 178.6,151.1 179.3,151.7 180.1,152.3 181.0,153.0 182.2,153.8 183.6,154.8 185.2,155.9 186.9,157.2 188.7,158.5 190.4,160.0 192.2,161.4 193.7,162.9 195.2,164.4 196.4,165.9 197.3,167.3 198.1,168.7 198.9,170.1 199.7,171.5 200.3,172.9 200.9,174.4 201.4,175.8 201.8,177.3 202.1,178.6 202.3,179.9 202.2,181.2 202.1,182.3 201.7,183.3 201.3,184.2 200.8,185.1 200.3,186.0 199.7,186.8 199.1,187.7 198.5,188.5 197.9,189.3 197.2,190.0 196.5,190.8 195.8,191.5 195.0,192.1 194.2,192.7 193.3,193.3 192.4,193.7 191.4,194.0 190.4,194.2 189.3,194.4 188.2,194.4 187.0,194.4 185.9,194.3 184.7,194.1 183.5,193.9 182.4,193.6 181.3,193.3 180.1,192.8 178.8,192.1 177.5,191.2 176.2,190.0 174.9,188.7 173.6,187.3 172.3,185.9 171.2,184.4 170.0,182.9 169.0,181.5 168.0,180.2 167.2,179.1 166.4,178.1 165.7,177.4 165.0,176.9 164.4,176.3 163.8,175.7 163.2,174.9 162.6,173.9 162.0,172.5 161.4,170.8 160.7,163.7 160.2,152.6 160.1,146.8 160.0,152.2 159.5,162.8 158.8,169.8 158.3,171.9 157.7,173.5 157.1,174.8 156.4,175.8 155.8,176.7 155.1,177.4 154.4,178.2 153.6,179.0 152.8,180.0 151.9,181.2 150.9,182.5 149.9,183.9 148.8,185.3 147.6,186.7 146.4,188.0 145.1,189.2 143.9,190.4 142.6,191.4 141.3,192.2 140.1,192.9 138.9,193.3 137.8,193.6 136.7,193.9 135.5,194.1 134.3,194.2 133.2,194.4 132.0,194.4 130.9,194.4 129.8,194.2 128.8,194.0 127.8,193.7 126.9,193.3 126.0,192.7 125.2,192.1 124.5,191.4 123.8,190.7 123.1,189.9 122.5,189.1 121.9,188.2 121.4,187.3 120.9,186.4 120.4,185.5 120.0,184.5 119.6,183.6 119.2,182.6 118.9,181.6 118.8,180.5 118.8,179.3 118.8,178.0 119.0,176.8 119.3,175.5 119.6,174.1 120.0,172.8 120.5,171.5 121.0,170.2 121.5,169.0 122.0,167.8 122.6,166.6 123.3,165.4 124.0,164.2 124.9,163.0 125.8,161.8 126.7,160.6 127.7,159.6 128.6,158.5 129.5,157.6 130.3,156.7 131.0,155.8 131.6,155.1 132.0,154.4 132.4,153.7 132.8,153.1 133.1,152.5 133.4,152.0 133.7,151.4 134.0,150.9 134.3,150.3 134.7,149.8 135.1,149.3 135.6,148.8 136.2,148.3 136.8,147.8 137.5,147.4 138.5,146.9 140.1,146.5 150.1,146.0 159.1,145.8 149.7,145.6 138.1,145.0 134.3,144.4 131.5,143.8 129.6,143.1 128.3,142.5 127.4,141.8 126.6,141.1 125.9,140.4 125.3,139.7 124.8,138.9 124.4,138.2 124.1,137.5 123.8,136.8 123.6,136.0 123.4,135.3 123.2,134.5 123.0,133.7 122.8,133.0 122.7,132.2 122.5,131.4 122.4,130.6 122.3,129.8 122.2,128.9 122.2,128.1 122.3,127.3 122.3,126.6 122.5,125.8 122.6,125.0 122.9,124.3 123.1,123.6 123.4,122.9 123.7,122.2 124.0,121.5 124.4,120.8 124.7,120.1 125.1,119.4 125.5,118.8 126.0,118.2 126.4,117.5 126.9,116.9 127.4,116.4 128.1,115.9 129.0,115.8 130.1,115.8 131.4,116.0 132.7,116.4 134.0,116.8 135.3,117.3 136.5,117.7 137.6,118.0 138.6,118.2 139.4,118.3 140.2,118.4 141.0,118.5 141.7,118.5 142.4,118.6 143.1,118.7 143.8,118.7 144.5,118.8 145.1,118.8 145.8,118.8 146.4,118.8 146.9,118.8 147.5,118.8 148.1,118.8 148.6,118.7 149.1,118.7 149.7,118.6 150.2,118.6 150.7,118.6 151.2,118.5 151.8,118.5 152.3,118.5 152.8,118.6 153.3,118.6 153.8,118.7 154.4,118.8 154.9,118.8 155.3,118.9 155.8,118.9 156.3,119.1 156.8,119.3 157.3,119.5 157.8,119.8 158.3,120.3 158.8,120.8 159.5,127.3 160.0,138.7Z" fill="none" stroke="#00ffff" stroke-width="1.6" stroke-linejoin="round" stroke-dasharray="5 2.5 1.5 2.5"/><path d="M160.1,141.2L163.0,144.8L160.1,148.4L157.2,144.8Z" fill="none" stroke="#00ffff" stroke-width="2.0"/><path d="M169.2,99.3L172.1,102.9L169.2,106.5L166.3,102.9Z" fill="none" stroke="#00ffff" stroke-width="2.0"/><path d="M177.1,104.0L180.0,107.6L177.1,111.2L174.2,107.6Z" fill="none" stroke="#00ffff" stroke-width="2.0"/><path d="M184.4,108.8L187.3,112.4L184.4,116.0L181.5,112.4Z" fill="none" stroke="#00ffff" stroke-width="2.0"/><path d="M193.5,112.1L196.4,115.7L193.5,119.3L190.6,115.7Z" fill="none" stroke="#00ffff" stroke-width="2.0"/><path d="M197.3,120.7L200.2,124.3L197.3,127.9L194.5,124.3Z" fill="none" stroke="#00ffff" stroke-width="2.0"/><path d="M192.4,131.7L195.3,135.3L192.4,138.9L189.6,135.3Z" fill="none" stroke="#00ffff" stroke-width="2.0"/><path d="M183.0,139.8L185.9,143.4L183.0,147.0L180.1,143.4Z" fill="none" stroke="#00ffff" stroke-width="2.0"/><path d="M174.0,143.7L176.9,147.3L174.0,150.9L171.1,147.3Z" fill="none" stroke="#00ffff" stroke-width="2.0"/><path d="M180.1,148.7L183.0,152.3L180.1,155.9L177.2,152.3Z" fill="none" stroke="#00ffff" stroke-width="2.0"/><path d="M197.3,163.7L200.2,167.3L197.3,170.9L194.5,167.3Z" fill="none" stroke="#00ffff" stroke-width="2.0"/><path d="M201.7,179.7L204.6,183.3L201.7,186.9L198.8,183.3Z" fill="none" stroke="#00ffff" stroke-width="2.0"/><path d="M194.2,189.1L197.1,192.7L194.2,196.3L191.3,192.7Z" fill="none" stroke="#00ffff" stroke-width="2.0"/><path d="M181.3,189.7L184.1,193.3L181.3,196.9L178.4,193.3Z" fill="none" stroke="#00ffff" stroke-width="2.0"/><path d="M167.2,175.5L170.0,179.1L167.2,182.7L164.3,179.1Z" fill="none" stroke="#00ffff" stroke-width="2.0"/><path d="M160.1,143.2L163.0,146.8L160.1,150.4L157.2,146.8Z" fill="none" stroke="#00ffff" stroke-width="2.0"/><path d="M152.8,176.4L155.7,180.0L152.8,183.6L149.9,180.0Z" fill="none" stroke="#00ffff" stroke-width="2.0"/><path d="M138.9,189.7L141.8,193.3L138.9,196.9L136.1,193.3Z" fill="none" stroke="#00ffff" stroke-width="2.0"/><path d="M126.0,189.1L128.9,192.7L126.0,196.3L123.1,192.7Z" fill="none" stroke="#00ffff" stroke-width="2.0"/><path d="M119.2,179.0L122.1,182.6L119.2,186.2L116.3,182.6Z" fill="none" stroke="#00ffff" stroke-width="2.0"/><path d="M122.0,164.2L124.9,167.8L122.0,171.4L119.1,167.8Z" fill="none" stroke="#00ffff" stroke-width="2.0"/><path d="M131.6,151.5L134.4,155.1L131.6,158.7L128.7,155.1Z" fill="none" stroke="#00ffff" stroke-width="2.0"/><path d="M136.2,144.7L139.1,148.3L136.2,151.9L133.4,148.3Z" fill="none" stroke="#00ffff" stroke-width="2.0"/><path d="M128.3,138.9L131.2,142.5L128.3,146.1L125.4,142.5Z" fill="none" stroke="#00ffff" stroke-width="2.0"/><path d="M123.0,130.1L125.9,133.7L123.0,137.3L120.1,133.7Z" fill="none" stroke="#00ffff" stroke-width="2.0"/><path d="M122.9,120.7L125.7,124.3L122.9,127.9L120.0,124.3Z" fill="none" stroke="#00ffff" stroke-width="2.0"/><path d="M127.4,112.8L130.3,116.4L127.4,120.0L124.5,116.4Z" fill="none" stroke="#00ffff" stroke-width="2.0"/><path d="M140.2,114.8L143.1,118.4L140.2,122.0L137.3,118.4Z" fill="none" stroke="#00ffff" stroke-width="2.0"/><path d="M148.1,115.2L150.9,118.8L148.1,122.4L145.2,118.8Z" fill="none" stroke="#00ffff" stroke-width="2.0"/><path d="M154.4,115.2L157.2,118.8L154.4,122.4L151.5,118.8Z" fill="none" stroke="#00ffff" stroke-width="2.0"/><path d="M497.2,35.3 498.1,35.3 498.2,35.3 499.2,35.3 500.2,35.4 501.2,35.5 502.1,35.6 503.1,35.8 504.1,35.9 505.1,36.1 506.0,36.3 507.0,36.6 508.0,36.8 508.9,37.1 509.7,37.3 509.9,37.4 510.8,37.7 511.8,38.1 512.7,38.6 513.6,39.1 514.5,39.7 515.3,40.3 516.2,40.9 517.0,41.6 517.9,42.4 518.7,43.2 519.5,43.9 520.0,44.5 520.2,44.8 521.0,45.7 521.7,46.7 522.4,47.8 523.0,48.9 523.6,50.2 524.2,51.4 524.7,52.8 525.2,54.1 525.7,55.5 526.1,56.7 526.1,56.8 526.6,58.3 526.9,59.8 527.3,61.3 527.5,63.0 527.8,64.6 528.0,66.2 528.1,67.0 528.2,67.9 528.3,69.5 528.5,71.2 528.5,73.0 528.6,74.7 528.6,76.4 528.6,77.6 528.6,78.0 528.6,79.6 528.7,81.0 528.7,82.4 528.7,84.0 528.5,85.8 528.1,87.8 528.1,88.0 527.0,91.2 525.1,96.0 523.3,100.4 522.7,102.5 522.7,102.5 524.1,100.4 525.0,99.3 526.7,97.4 528.2,95.9 529.6,94.5 531.0,93.4 532.2,92.4 533.4,91.7 534.5,91.0 535.6,90.5 536.6,90.1 537.6,89.8 538.5,89.6 539.4,89.4 540.3,89.3 540.7,89.2 541.1,89.1 542.0,89.0 542.9,88.9 543.8,88.9 544.7,88.9 545.5,88.9 546.3,89.0 547.1,89.1 547.8,89.3 548.4,89.6 549.0,90.0 549.3,90.2 549.5,90.4 550.0,90.9 550.5,91.4 551.0,91.9 551.4,92.4 551.9,92.9 552.3,93.4 552.7,93.9 553.1,94.5 553.5,95.1 553.9,95.6 554.3,96.2 554.6,96.8 555.0,97.4 555.0,97.4 555.3,98.0 555.5,98.7 555.7,99.4 555.8,100.2 555.8,101.0 555.8,101.9 555.7,102.7 555.7,103.6 555.6,104.5 555.5,105.3 555.4,106.2 555.4,106.6 555.4,107.0 555.3,107.8 555.2,108.6 555.1,109.4 555.0,110.2 554.9,111.0 554.8,111.8 554.6,112.6 554.4,113.4 554.2,114.2 554.0,115.0 553.8,115.8 553.5,116.6 553.4,116.8 553.2,117.4 552.8,118.2 552.5,119.0 552.1,119.8 551.6,120.7 551.2,121.5 550.7,122.3 550.2,123.1 549.6,124.0 549.0,124.8 548.4,125.6 547.7,126.4 547.2,127.0 547.0,127.3 546.2,128.1 545.3,128.9 544.3,129.8 543.3,130.7 542.3,131.5 541.2,132.4 540.0,133.2 538.9,134.0 537.7,134.8 536.5,135.6 536.0,135.9 535.3,136.3 533.9,137.1 532.5,137.9 531.0,138.6 529.5,139.4 528.2,140.0 526.9,140.6 525.9,141.2 525.7,141.3 525.2,141.6 524.4,142.1 523.6,142.5 522.8,142.9 522.1,143.3 521.4,143.6 520.6,144.0 519.9,144.3 519.3,144.6 518.6,144.9 518.0,145.2 517.4,145.5 516.9,145.7 516.3,146.0 515.9,146.2 515.4,146.4 515.0,146.6 514.7,146.8 514.4,147.0 514.2,147.1 514.0,147.3 513.9,147.4 513.8,147.6 513.8,147.6 513.8,147.7 513.8,147.9 513.8,148.0 513.7,148.2 513.7,148.3 513.7,148.4 513.7,148.6 513.7,148.7 513.7,148.9 513.6,149.0 513.6,149.2 513.6,149.3 513.6,149.4 513.6,149.5 513.6,149.6 513.6,149.7 513.6,149.9 513.6,150.0 513.6,150.2 513.7,150.3 513.7,150.5 513.7,150.6 513.8,150.8 513.8,150.9 513.9,151.1 513.9,151.2 514.0,151.4 514.1,151.6 514.1,151.7 514.2,151.9 514.3,152.1 514.4,152.2 514.4,152.4 514.5,152.6 514.6,152.8 514.7,153.0 514.8,153.2 514.9,153.4 515.0,153.6 515.1,153.7 515.2,154.0 515.3,154.2 515.4,154.4 515.5,154.6 515.5,154.6 515.6,154.8 515.7,155.0 515.9,155.3 516.1,155.5 516.3,155.8 516.5,156.1 516.8,156.4 517.1,156.7 517.3,157.0 517.6,157.4 517.9,157.7 518.3,158.1 518.6,158.5 518.9,158.9 519.3,159.3 519.6,159.7 519.9,160.1 520.3,160.5 520.6,161.0 520.9,161.4 521.3,161.9 521.6,162.3 521.7,162.5 521.9,162.8 522.2,163.3 522.6,163.8 523.0,164.3 523.4,164.9 523.8,165.5 524.2,166.1 524.6,166.7 525.0,167.3 525.4,167.9 525.7,168.6 526.1,169.2 526.4,169.8 526.7,170.4 526.8,170.7 526.9,171.0 527.2,171.7 527.5,172.3 527.8,173.0 528.0,173.6 528.2,174.2 528.4,174.8 528.4,175.3 528.4,175.8 528.4,175.8 528.3,176.2 528.2,176.6 528.1,177.0 528.0,177.4 527.8,177.8 527.7,178.2 527.5,178.5 527.4,178.9 527.2,179.2 527.0,179.5 526.7,179.9 526.5,180.2 526.3,180.5 526.0,180.7 525.8,180.9 525.7,181.0 525.4,181.2 525.0,181.3 524.6,181.4 524.1,181.4 523.7,181.5 523.2,181.5 522.8,181.5 522.4,181.6 522.0,181.7 521.7,181.9 521.7,181.9 521.4,182.1 521.2,182.5 521.0,182.8 520.9,183.2 520.7,183.7 520.6,184.2 520.6,184.8 520.5,185.4 520.4,186.1 520.4,186.7 520.3,187.4 520.3,188.1 520.2,188.8 520.2,189.1 520.2,189.6 520.2,190.6 520.3,191.7 520.5,192.8 520.6,194.1 520.7,195.2 520.7,195.3 520.8,196.5 520.9,197.7 520.9,199.0 521.0,200.3 521.0,201.6 521.0,202.3 521.0,202.8 520.9,204.0 520.9,205.3 520.8,206.5 520.7,207.7 520.6,209.0 520.4,210.2 520.3,211.4 520.0,212.6 519.8,213.7 519.5,214.8 519.2,215.9 519.0,216.6 518.9,216.9 518.6,217.9 518.2,218.9 517.8,219.8 517.4,220.8 516.9,221.7 516.5,222.6 516.0,223.4 515.5,224.3 515.0,225.0 514.4,225.7 513.9,226.3 513.8,226.4 513.3,226.9 512.7,227.5 512.0,228.0 511.4,228.5 510.8,229.0 510.1,229.5 509.4,229.9 508.8,230.3 508.1,230.7 507.4,231.1 506.7,231.4 506.0,231.8 505.7,231.9 505.3,232.1 504.6,232.4 503.9,232.8 503.2,233.1 502.4,233.4 501.7,233.7 501.0,234.0 500.2,234.2 499.5,234.4 498.7,234.5 498.0,234.6 497.5,234.6 497.2,234.6 496.4,234.5 495.7,234.4 494.9,234.3 494.2,234.0 493.5,233.8 492.7,233.5 492.0,233.2 491.3,232.9 490.5,232.5 489.8,232.2 489.3,231.9 489.1,231.8 488.4,231.4 487.7,231.0 487.1,230.6 486.4,230.1 485.7,229.7 485.1,229.1 484.4,228.6 483.8,228.0 483.2,227.4 482.6,226.8 482.0,226.2 481.4,225.6 480.9,224.9 480.7,224.7 480.3,224.2 479.8,223.5 479.3,222.7 478.8,221.9 478.3,221.0 477.9,220.2 477.4,219.3 477.0,218.3 476.7,217.4 476.3,216.4 475.9,215.4 475.6,214.4 475.3,213.4 475.0,212.4 474.8,211.4 474.5,210.4 474.2,209.4 474.0,208.5 474.0,208.4 473.8,207.5 473.6,206.4 473.5,205.3 473.4,204.2 473.3,203.1 473.2,202.0 473.2,200.8 473.1,199.7 473.1,198.6 473.1,197.5 473.1,196.4 473.2,195.3 473.2,194.3 473.2,193.3 473.2,192.4 473.1,191.6 473.1,190.8 473.0,190.0 473.0,190.0 472.9,189.4 472.8,188.7 472.7,188.1 472.6,187.5 472.5,187.0 472.3,186.4 472.2,185.9 472.1,185.4 472.0,184.9 471.8,184.4 471.7,183.9 471.7,183.9 471.6,183.4 471.5,183.0 471.3,182.5 471.2,182.0 471.1,181.6 471.0,181.1 470.9,180.7 470.8,180.2 470.7,179.8 470.6,179.4 470.4,179.0 470.3,178.5 470.2,178.1 470.1,177.7 470.0,177.3 469.9,176.9 469.8,176.5 469.7,176.2 469.6,175.8 469.6,175.7 469.5,175.4 469.4,175.0 469.3,174.7 469.2,174.4 469.0,174.0 468.9,173.7 468.7,173.4 468.6,173.1 468.5,172.8 468.3,172.4 468.2,172.1 468.1,171.8 467.9,171.5 467.8,171.2 467.7,170.8 467.6,170.5 467.5,170.2 467.5,169.8 467.4,169.5 467.4,169.1 467.4,168.7 467.4,168.3 467.4,167.9 467.5,167.5 467.6,167.1 467.6,167.0 467.9,166.6 468.6,165.8 469.6,164.8 470.8,163.8 471.8,162.9 471.9,162.8 472.6,162.2 473.5,161.4 474.4,160.6 475.4,159.8 476.4,159.1 477.5,158.3 478.6,157.6 479.6,156.8 480.7,156.1 481.8,155.4 482.9,154.8 484.0,154.2 485.0,153.6 486.0,153.0 487.0,152.5 487.9,152.1 488.7,151.6 489.5,151.2 490.2,150.9 490.8,150.6 491.4,150.4 491.8,150.2 492.1,150.0 492.3,149.9 492.4,149.8 492.4,149.8 492.3,149.8 492.1,149.8 491.7,149.9 491.2,149.9 490.6,150.1 489.9,150.2 489.1,150.3 488.2,150.5 487.2,150.6 486.2,150.7 485.1,150.9 484.0,151.0 482.9,151.1 481.8,151.2 480.6,151.2 479.5,151.2 478.5,151.3 477.4,151.2 476.5,151.2 475.6,151.1 474.8,151.0 474.1,150.9 473.6,150.8 473.1,150.6 472.9,150.5 472.8,150.4 472.5,150.2 472.3,150.0 472.1,149.8 471.9,149.6 471.7,149.4 471.5,149.2 471.3,149.0 471.2,148.8 471.1,148.5 470.9,148.3 470.8,148.1 470.7,147.8 470.6,147.6 470.4,147.4 470.3,147.1 470.2,146.9 470.1,146.6 469.9,146.4 469.8,146.2 469.6,145.9 469.5,145.6 469.3,145.4 469.3,145.4 469.1,145.1 468.9,144.8 468.7,144.6 468.5,144.3 468.3,144.0 468.1,143.7 467.9,143.4 467.7,143.1 467.5,142.8 467.2,142.5 467.0,142.2 466.7,141.9 466.5,141.5 466.2,141.2 465.9,140.8 465.6,140.5 465.3,140.1 465.0,139.7 464.7,139.3 464.3,138.9 464.0,138.5 463.7,138.2 463.6,138.1 463.1,137.6 462.5,137.1 461.9,136.5 461.1,135.9 460.4,135.3 459.6,134.7 458.7,134.0 457.9,133.3 457.1,132.5 456.3,131.8 455.5,131.1 455.5,131.1 454.7,130.3 453.9,129.6 453.1,128.7 452.3,127.9 451.4,127.0 450.6,126.1 449.7,125.2 448.9,124.3 448.1,123.4 447.4,122.5 446.7,121.5 446.0,120.6 445.4,119.7 444.8,118.8 444.4,117.9 444.3,117.8 443.9,117.0 443.5,116.2 443.1,115.3 442.8,114.4 442.4,113.5 442.1,112.6 441.7,111.7 441.4,110.8 441.2,109.9 440.9,109.0 440.7,108.2 440.5,107.3 440.3,106.4 440.2,105.5 440.1,104.7 440.0,103.8 440.0,103.0 440.0,102.2 440.0,101.4 440.1,100.6 440.2,99.8 440.4,99.1 440.6,98.4 440.7,98.0 440.8,97.7 441.0,97.0 441.3,96.4 441.6,95.7 441.8,95.0 442.1,94.4 442.4,93.8 442.8,93.1 443.1,92.5 443.5,92.0 443.9,91.4 444.4,90.9 444.9,90.4 445.1,90.2 445.4,90.0 446.0,89.7 446.8,89.5 447.6,89.5 448.6,89.5 449.5,89.7 450.6,89.9 451.6,90.2 452.7,90.5 453.8,90.9 454.6,91.2 454.9,91.3 456.0,91.8 457.2,92.5 458.5,93.3 460.0,94.3 461.4,95.5 462.5,96.4 463.0,96.9 464.8,98.6 466.8,100.8 469.1,103.5 470.7,105.5 471.6,106.7 475.4,112.2 479.8,119.0 483.8,125.2 486.4,129.2 486.8,129.8 485.1,126.5 477.7,112.5 476.8,110.7 475.2,107.1 473.9,103.8 472.7,100.4 472.7,100.4 471.0,96.0 469.3,91.4 468.6,89.2 468.0,87.3 466.9,83.5 465.9,80.0 465.4,77.2 465.4,77.1 465.1,74.9 465.1,72.9 465.1,71.1 465.2,69.4 465.3,67.7 465.4,67.0 465.5,66.0 465.7,64.3 465.9,62.7 466.2,61.1 466.5,59.5 466.9,58.0 467.3,56.6 467.7,55.2 467.9,54.7 468.2,53.9 468.7,52.6 469.3,51.3 469.9,50.1 470.5,48.9 471.1,47.7 471.8,46.6 472.4,45.6 473.2,44.6 473.9,43.7 474.6,43.0 474.7,42.9 475.5,42.1 476.3,41.3 477.1,40.5 478.0,39.8 478.8,39.0 479.7,38.3 480.6,37.7 481.5,37.2 482.4,36.7 483.4,36.3 484.4,36.0 485.2,35.9 485.3,35.9 486.3,35.8 487.3,35.7 488.3,35.6 489.3,35.5 490.3,35.5 491.3,35.4 492.3,35.4 493.2,35.3 494.2,35.3 495.2,35.3 496.2,35.3Z" fill="none" stroke="#ff0000" stroke-width="2" stroke-linejoin="round"/><circle cx="497.2" cy="35.3" r="3.00" fill="#ff0000"/><circle cx="519.5" cy="43.9" r="3.00" fill="#ff0000"/><circle cx="528.6" cy="78.0" r="3.00" fill="#ff0000"/><circle cx="540.3" cy="89.3" r="3.00" fill="#ff0000"/><circle cx="554.6" cy="96.8" r="3.00" fill="#ff0000"/><circle cx="553.8" cy="115.8" r="3.00" fill="#ff0000"/><circle cx="536.5" cy="135.6" r="3.00" fill="#ff0000"/><circle cx="515.4" cy="146.4" r="3.00" fill="#ff0000"/><circle cx="513.6" cy="150.0" r="3.00" fill="#ff0000"/><circle cx="515.3" cy="154.2" r="3.00" fill="#ff0000"/><circle cx="521.6" cy="162.3" r="3.00" fill="#ff0000"/><circle cx="528.3" cy="176.2" r="3.00" fill="#ff0000"/><circle cx="521.7" cy="181.9" r="3.00" fill="#ff0000"/><circle cx="521.0" cy="201.6" r="3.00" fill="#ff0000"/><circle cx="513.9" cy="226.3" r="3.00" fill="#ff0000"/><circle cx="497.2" cy="234.6" r="3.00" fill="#ff0000"/><circle cx="480.9" cy="224.9" r="3.00" fill="#ff0000"/><circle cx="473.2" cy="202.0" r="3.00" fill="#ff0000"/><circle cx="471.6" cy="183.4" r="3.00" fill="#ff0000"/><circle cx="468.9" cy="173.7" r="3.00" fill="#ff0000"/><circle cx="471.8" cy="162.9" r="3.00" fill="#ff0000"/><circle cx="492.3" cy="149.9" r="3.00" fill="#ff0000"/><circle cx="473.6" cy="150.8" r="3.00" fill="#ff0000"/><circle cx="469.3" cy="145.4" r="3.00" fill="#ff0000"/><circle cx="462.5" cy="137.1" r="3.00" fill="#ff0000"/><circle cx="444.4" cy="117.9" r="3.00" fill="#ff0000"/><circle cx="440.8" cy="97.7" r="3.00" fill="#ff0000"/><circle cx="456.0" cy="91.8" r="3.00" fill="#ff0000"/><circle cx="465.4" cy="77.1" r="3.00" fill="#ff0000"/><circle cx="474.7" cy="42.9" r="3.00" fill="#ff0000"/><path d="M497.2,126.4 497.6,126.0 498.0,124.8 498.5,123.1 499.1,121.1 499.8,118.8 500.6,116.4 501.4,114.1 502.3,112.1 503.2,110.5 504.1,109.5 504.8,109.2 505.5,109.5 506.1,110.1 506.5,110.9 507.0,112.0 507.3,113.2 507.6,114.4 507.8,115.7 508.0,116.9 508.2,118.1 508.4,119.1 508.7,120.0 509.0,120.6 509.4,121.0 510.0,121.0 510.8,120.5 511.9,119.6 513.1,118.5 514.5,117.3 516.0,115.9 517.5,114.6 519.1,113.3 520.7,112.2 522.2,111.4 523.5,110.8 524.7,110.7 525.5,110.9 526.1,111.5 526.5,112.2 526.9,113.1 527.1,114.1 527.2,115.1 527.3,116.2 527.3,117.3 527.2,118.4 527.1,119.5 527.0,120.6 526.9,121.6 526.8,122.7 526.5,123.8 526.1,125.0 525.7,126.1 525.2,127.3 524.7,128.4 524.3,129.4 523.9,130.4 523.7,131.2 523.6,131.9 523.8,132.4 524.2,132.8 525.0,133.0 526.0,133.0 527.3,133.0 528.8,133.0 530.4,132.9 532.1,132.8 533.8,132.8 535.5,132.9 537.1,133.0 538.6,133.3 539.9,133.7 540.9,134.1 541.8,134.7 542.7,135.3 543.4,136.0 544.1,136.6 544.8,137.3 545.5,138.1 546.1,138.8 546.7,139.6 547.3,140.4 547.8,141.2 548.4,142.0 548.9,142.9 549.4,143.7 550.0,144.6 550.4,145.5 550.9,146.4 551.3,147.4 551.8,148.3 552.2,149.3 552.5,150.2 552.9,151.2 553.2,152.2 553.6,153.2 553.9,154.2 554.2,155.3 554.5,156.3 554.7,157.4 555.0,158.4 555.2,159.5 555.4,160.6 555.6,161.7 555.7,162.8 555.9,164.0 556.0,165.1 556.1,166.2 556.2,167.4 556.2,168.5 556.2,169.7 556.2,170.9 556.2,172.1 556.2,173.2 556.1,174.4 556.0,175.6 555.9,176.8 555.8,178.0 555.6,179.2 555.4,180.5 555.2,181.7 555.0,182.9 554.8,184.2 554.6,185.5 554.4,186.8 554.2,188.1 553.9,189.4 553.6,190.6 553.2,191.9 552.7,193.1 552.2,194.2 551.5,195.3 550.7,196.3 549.8,197.1 548.6,197.8 547.4,198.3 546.0,198.6 544.5,198.8 542.9,198.9 541.4,198.9 539.8,198.8 538.2,198.7 536.6,198.5 535.1,198.4 533.6,198.3 532.2,198.2 530.9,198.0 529.5,197.8 528.1,197.6 526.8,197.4 525.5,197.0 524.1,196.7 522.8,196.2 521.5,195.8 520.2,195.2 518.8,194.5 517.5,193.8 516.2,192.9 514.8,191.8 513.5,190.5 512.1,189.1 510.8,187.6 509.5,186.0 508.3,184.5 507.2,183.0 506.2,181.6 505.2,180.4 504.4,179.4 503.6,178.4 502.9,177.5 502.2,176.5 501.5,175.6 500.9,174.6 500.3,173.7 499.8,172.9 499.3,172.2 498.8,171.5 498.4,171.0 498.0,170.6 497.6,170.3 497.2,170.2 496.8,170.4 496.4,170.9 496.0,171.7 495.5,172.7 494.9,174.0 494.4,175.3 493.7,176.7 493.0,178.2 492.2,179.6 491.4,181.0 490.6,182.3 489.7,183.4 488.8,184.4 487.9,185.3 487.0,186.2 486.0,187.1 485.0,187.9 484.0,188.7 482.9,189.5 481.8,190.3 480.7,191.1 479.5,191.9 478.3,192.7 477.0,193.5 475.6,194.3 474.2,195.3 472.6,196.3 470.9,197.5 469.2,198.7 467.3,199.9 465.4,200.9 463.6,201.9 461.8,202.6 460.1,203.1 458.6,203.3 457.2,203.1 456.0,202.7 454.8,202.3 453.6,201.9 452.5,201.4 451.4,200.8 450.3,200.2 449.2,199.6 448.2,198.9 447.2,198.2 446.2,197.4 445.3,196.5 444.4,195.6 443.6,194.7 442.9,193.7 442.2,192.7 441.5,191.7 440.9,190.6 440.3,189.5 439.7,188.4 439.2,187.3 438.7,186.1 438.3,185.0 437.9,183.8 437.4,182.7 437.1,181.5 436.8,180.3 436.5,179.1 436.4,177.9 436.2,176.6 436.2,175.4 436.1,174.1 436.1,172.9 436.1,171.7 436.2,170.4 436.2,169.2 436.3,168.0 436.4,166.8 436.6,165.6 436.8,164.4 437.0,163.2 437.3,162.1 437.6,160.9 437.9,159.8 438.2,158.7 438.6,157.5 438.9,156.5 439.2,155.4 439.5,154.3 439.8,153.3 440.1,152.3 440.4,151.3 440.6,150.3 440.9,149.3 441.2,148.3 441.5,147.3 441.8,146.4 442.2,145.4 442.6,144.5 443.0,143.6 443.5,142.7 444.0,141.8 444.5,140.9 445.1,140.1 445.6,139.2 446.2,138.4 446.9,137.6 447.5,136.9 448.2,136.1 449.0,135.4 449.8,134.8 450.6,134.1 451.5,133.5 452.7,133.0 454.1,132.7 455.7,132.4 457.5,132.3 459.3,132.3 461.2,132.3 463.0,132.4 464.6,132.5 466.1,132.5 467.3,132.4 468.1,132.2 468.6,131.9 468.9,131.3 469.0,130.8 469.1,130.1 469.2,129.5 469.2,128.7 469.1,128.0 469.1,127.2 469.0,126.4 469.0,125.5 468.9,124.7 468.9,123.8 469.0,123.0 469.0,122.1 468.9,121.0 468.7,119.9 468.6,118.8 468.4,117.6 468.4,116.4 468.5,115.4 468.6,114.4 469.0,113.6 469.5,113.0 470.3,112.8 471.6,113.2 473.1,114.1 474.9,115.4 476.8,117.0 478.7,118.8 480.6,120.8 482.4,122.7 484.0,124.6 485.5,126.3 486.6,127.7 487.6,128.6 488.3,129.3 489.0,130.0 489.7,130.6 490.2,131.1 490.7,131.4 491.0,131.5 491.0,130.5 490.6,128.0 489.9,124.5 489.2,120.5 488.6,116.5 488.4,113.0 488.4,110.4 488.9,109.3 489.6,109.5 490.5,110.4 491.4,111.7 492.3,113.4 493.2,115.4 494.0,117.6 494.7,119.8 495.3,121.8 495.9,123.6 496.4,125.1 496.8,126.0Z" fill="none" stroke="#ff00ff" stroke-width="1.2" stroke-linejoin="round" stroke-dasharray="3.5 2.5"/><rect x="495.2" y="124.4" width="4.0" height="4.0" fill="none" stroke="#ff00ff" stroke-width="1.1"/><rect x="503.5" y="107.5" width="4.0" height="4.0" fill="none" stroke="#ff00ff" stroke-width="1.1"/><rect x="507.4" y="119.0" width="4.0" height="4.0" fill="none" stroke="#ff00ff" stroke-width="1.1"/><rect x="522.7" y="108.7" width="4.0" height="4.0" fill="none" stroke="#ff00ff" stroke-width="1.1"/><rect x="524.9" y="119.6" width="4.0" height="4.0" fill="none" stroke="#ff00ff" stroke-width="1.1"/><rect x="522.2" y="130.8" width="4.0" height="4.0" fill="none" stroke="#ff00ff" stroke-width="1.1"/><rect x="538.9" y="132.1" width="4.0" height="4.0" fill="none" stroke="#ff00ff" stroke-width="1.1"/><rect x="546.9" y="140.9" width="4.0" height="4.0" fill="none" stroke="#ff00ff" stroke-width="1.1"/><rect x="551.9" y="152.2" width="4.0" height="4.0" fill="none" stroke="#ff00ff" stroke-width="1.1"/><rect x="554.2" y="165.4" width="4.0" height="4.0" fill="none" stroke="#ff00ff" stroke-width="1.1"/><rect x="553.2" y="179.7" width="4.0" height="4.0" fill="none" stroke="#ff00ff" stroke-width="1.1"/><rect x="548.7" y="194.3" width="4.0" height="4.0" fill="none" stroke="#ff00ff" stroke-width="1.1"/><rect x="531.6" y="196.3" width="4.0" height="4.0" fill="none" stroke="#ff00ff" stroke-width="1.1"/><rect x="515.5" y="191.8" width="4.0" height="4.0" fill="none" stroke="#ff00ff" stroke-width="1.1"/><rect x="501.6" y="176.4" width="4.0" height="4.0" fill="none" stroke="#ff00ff" stroke-width="1.1"/><rect x="495.2" y="168.2" width="4.0" height="4.0" fill="none" stroke="#ff00ff" stroke-width="1.1"/><rect x="487.7" y="181.4" width="4.0" height="4.0" fill="none" stroke="#ff00ff" stroke-width="1.1"/><rect x="475.0" y="191.5" width="4.0" height="4.0" fill="none" stroke="#ff00ff" stroke-width="1.1"/><rect x="455.2" y="201.1" width="4.0" height="4.0" fill="none" stroke="#ff00ff" stroke-width="1.1"/><rect x="442.4" y="193.6" width="4.0" height="4.0" fill="none" stroke="#ff00ff" stroke-width="1.1"/><rect x="435.4" y="180.7" width="4.0" height="4.0" fill="none" stroke="#ff00ff" stroke-width="1.1"/><rect x="434.3" y="166.0" width="4.0" height="4.0" fill="none" stroke="#ff00ff" stroke-width="1.1"/><rect x="437.5" y="152.3" width="4.0" height="4.0" fill="none" stroke="#ff00ff" stroke-width="1.1"/><rect x="441.5" y="140.7" width="4.0" height="4.0" fill="none" stroke="#ff00ff" stroke-width="1.1"/><rect x="449.5" y="131.5" width="4.0" height="4.0" fill="none" stroke="#ff00ff" stroke-width="1.1"/><rect x="466.6" y="129.9" width="4.0" height="4.0" fill="none" stroke="#ff00ff" stroke-width="1.1"/><rect x="467.0" y="121.0" width="4.0" height="4.0" fill="none" stroke="#ff00ff" stroke-width="1.1"/><rect x="469.6" y="111.2" width="4.0" height="4.0" fill="none" stroke="#ff00ff" stroke-width="1.1"/><rect x="487.0" y="128.0" width="4.0" height="4.0" fill="none" stroke="#ff00ff" stroke-width="1.1"/><rect x="486.9" y="107.3" width="4.0" height="4.0" fill="none" stroke="#ff00ff" stroke-width="1.1"/><path d="M497.2,33.9 498.1,33.9 498.2,33.9 499.2,33.9 500.2,34.0 501.2,34.0 502.2,34.1 503.2,34.2 504.2,34.3 505.2,34.5 506.2,34.6 507.2,34.8 508.2,35.0 509.1,35.2 509.7,35.3 510.1,35.4 511.1,35.6 512.1,35.9 513.0,36.3 514.0,36.6 514.9,37.0 515.8,37.4 516.7,37.9 517.7,38.4 518.6,38.9 519.4,39.4 520.3,40.0 521.0,40.4 521.2,40.5 522.0,41.1 522.9,41.8 523.7,42.6 524.4,43.4 525.2,44.2 525.9,45.1 526.6,46.0 527.3,47.0 528.0,47.9 528.7,48.9 529.2,49.6 529.3,49.8 530.0,50.7 530.6,51.7 531.2,52.6 531.8,53.6 532.4,54.6 532.9,55.6 533.4,56.6 533.9,57.7 534.4,58.8 534.8,60.0 535.2,61.2 535.6,62.4 535.7,62.9 535.9,63.7 536.2,65.0 536.4,66.4 536.5,67.9 536.6,69.6 536.5,71.5 536.3,73.1 536.2,73.7 535.0,77.4 533.1,82.4 530.9,87.7 529.1,92.2 528.1,95.0 528.1,95.5 535.3,83.3 531.5,90.0 530.8,91.6 528.2,96.8 526.3,101.0 524.9,104.1 524.0,106.3 523.5,107.9 523.4,108.9 523.5,109.4 523.7,109.6 524.0,109.5 525.7,107.7 528.4,104.7 531.2,101.6 532.9,100.0 533.4,99.5 535.4,97.9 537.3,96.3 539.1,94.8 540.9,93.5 542.6,92.5 544.1,91.7 545.2,91.2 545.3,91.2 546.5,90.8 547.7,90.5 548.8,90.2 549.9,90.0 551.0,89.8 552.1,89.7 553.1,89.6 554.1,89.6 555.1,89.6 556.0,89.7 556.9,89.9 557.7,90.1 558.6,90.3 559.3,90.6 560.0,90.9 560.5,91.2 560.7,91.3 561.4,91.7 562.0,92.2 562.7,92.6 563.3,93.1 563.9,93.5 564.5,94.0 565.1,94.5 565.7,95.0 566.2,95.5 566.8,96.1 567.3,96.6 567.8,97.2 568.3,97.8 568.7,98.4 568.7,98.4 569.1,99.1 569.5,99.7 569.9,100.4 570.3,101.0 570.6,101.7 570.9,102.4 571.2,103.1 571.5,103.8 571.8,104.5 572.1,105.2 572.2,105.5 572.4,105.9 572.6,106.7 572.8,107.4 573.0,108.2 573.2,108.9 573.3,109.7 573.4,110.4 573.5,111.2 573.6,112.0 573.7,112.8 573.8,113.5 573.8,113.7 573.8,114.3 573.9,115.1 573.9,115.9 573.9,116.6 573.9,117.4 573.9,118.2 573.8,119.0 573.8,119.8 573.7,120.6 573.6,121.4 573.5,122.1 573.4,122.9 573.4,122.9 573.3,123.7 573.1,124.4 573.0,125.2 572.8,126.0 572.6,126.8 572.4,127.5 572.2,128.3 572.0,129.0 571.8,129.8 571.6,130.5 571.3,131.3 571.1,132.0 570.8,132.7 570.7,133.1 570.6,133.4 570.3,134.1 570.0,134.9 569.7,135.6 569.4,136.3 569.1,137.0 568.8,137.6 568.5,138.3 568.2,139.0 568.0,139.6 567.7,140.3 567.7,140.3 567.5,140.9 567.2,141.6 567.0,142.2 566.8,142.8 566.6,143.5 566.4,144.1 566.1,144.7 565.9,145.3 565.6,145.9 565.6,146.0 565.3,146.5 565.0,147.1 564.6,147.7 564.2,148.3 563.7,148.9 563.3,149.4 562.9,150.0 562.4,150.6 562.0,151.1 561.6,151.7 561.3,152.2 561.0,152.7 560.7,153.3 560.6,153.8 560.5,154.3 560.5,154.4 560.5,154.9 560.4,155.5 560.4,156.0 560.4,156.6 560.5,157.2 560.5,157.7 560.5,158.3 560.6,158.9 560.7,159.4 560.7,160.0 560.8,160.6 560.9,161.2 561.0,161.8 561.1,162.4 561.2,163.0 561.3,163.6 561.4,164.2 561.5,164.9 561.6,165.5 561.6,166.1 561.7,166.7 561.8,167.4 561.8,168.0 561.9,168.6 561.9,168.7 562.0,169.3 562.0,169.9 562.1,170.6 562.3,171.3 562.4,171.9 562.6,172.6 562.7,173.4 562.9,174.1 563.1,174.8 563.3,175.6 563.4,176.3 563.6,177.1 563.7,177.8 563.9,178.6 564.0,179.3 564.1,180.1 564.1,180.8 564.2,181.6 564.2,182.3 564.2,183.0 564.1,183.7 564.0,184.4 563.9,185.1 563.7,185.8 563.6,186.0 563.5,186.4 563.2,187.0 563.0,187.7 562.7,188.3 562.5,188.9 562.2,189.5 561.9,190.2 561.6,190.8 561.3,191.4 561.0,192.0 560.7,192.6 560.4,193.2 560.1,193.8 559.7,194.4 559.4,195.0 559.0,195.5 558.6,196.1 558.3,196.7 557.9,197.2 557.5,197.8 557.0,198.3 556.6,198.9 556.2,199.4 555.8,199.9 555.4,200.3 555.3,200.4 554.8,200.9 554.2,201.3 553.6,201.6 553.0,201.9 552.3,202.2 551.5,202.4 550.7,202.6 549.9,202.7 549.1,202.8 548.3,202.9 547.5,202.9 546.6,203.0 545.8,203.0 545.2,203.0 544.9,203.0 544.0,202.9 543.0,202.7 541.9,202.3 540.8,201.9 539.7,201.5 538.6,201.1 537.6,200.7 536.6,200.4 536.0,200.3 535.8,200.3 535.0,200.1 534.2,199.9 533.4,199.7 532.6,199.6 531.8,199.4 531.0,199.2 530.3,199.0 529.6,198.9 528.9,198.8 528.3,198.8 527.7,198.8 527.1,198.9 526.6,199.0 526.1,199.2 526.1,199.2 525.7,199.5 525.4,200.0 525.1,200.5 524.9,201.2 524.7,202.0 524.5,202.8 524.3,203.7 524.2,204.6 524.0,205.6 523.8,206.5 523.6,207.4 523.6,207.4 523.4,208.3 523.2,209.3 523.0,210.4 522.8,211.5 522.7,212.7 522.5,213.9 522.3,215.1 522.1,216.4 521.8,217.6 521.6,218.7 521.2,219.9 521.0,220.7 520.9,221.0 520.6,222.1 520.2,223.3 519.9,224.5 519.5,225.7 519.1,226.9 518.6,228.0 518.2,229.0 517.6,230.0 517.1,230.8 516.5,231.5 515.9,231.9 515.8,231.9 515.1,232.3 514.4,232.7 513.7,233.1 513.0,233.4 512.3,233.7 511.6,234.0 510.9,234.3 510.1,234.5 509.4,234.7 508.6,234.9 507.9,235.0 507.7,235.0 507.1,235.1 506.4,235.1 505.6,235.1 504.8,235.1 504.1,235.0 503.3,235.0 502.5,234.9 501.7,234.8 501.0,234.6 500.2,234.5 499.5,234.3 498.7,234.2 498.0,234.0 497.5,233.9 497.2,233.8 496.5,233.7 495.7,233.5 495.0,233.3 494.2,233.1 493.5,232.9 492.8,232.7 492.0,232.4 491.3,232.1 490.6,231.8 489.9,231.5 489.2,231.1 488.5,230.7 487.8,230.3 487.3,229.9 487.2,229.8 486.5,229.1 485.9,228.2 485.4,227.2 484.8,226.0 484.4,224.6 483.9,223.2 483.5,221.7 483.2,220.2 482.8,218.7 482.8,218.6 482.5,217.2 482.2,215.8 481.9,214.4 481.6,212.9 481.4,211.4 481.2,209.9 481.1,208.2 481.1,206.3 481.1,204.2 481.2,202.0 481.5,199.4 481.9,196.6 482.5,193.4 483.2,190.0 483.2,189.9 484.9,183.8 487.9,174.5 491.1,165.0 491.1,164.9 494.5,155.5 494.5,155.5 494.2,156.1 493.3,158.2 491.4,162.5 488.4,169.5 483.8,179.7 479.1,190.0 474.6,200.2 474.5,200.3 473.8,200.7 473.1,201.1 472.4,201.4 471.7,201.6 471.1,201.7 470.5,201.7 469.9,201.7 469.3,201.7 468.8,201.6 468.3,201.4 467.8,201.2 467.3,201.0 466.8,200.8 466.3,200.5 465.9,200.2 465.8,200.2 465.5,199.9 465.2,199.3 465.0,198.6 464.9,197.8 464.9,196.9 465.0,195.9 465.0,195.0 465.0,194.1 465.0,193.2 465.0,192.6 465.0,192.5 464.9,191.8 464.8,191.1 464.7,190.5 464.6,189.9 464.5,189.3 464.4,188.7 464.3,188.1 464.1,187.5 464.1,187.0 464.0,186.4 463.9,185.8 463.8,185.2 463.8,184.6 463.8,184.0 463.8,183.4 463.8,182.7 463.9,182.1 464.0,181.4 464.0,181.3 464.1,180.7 464.3,179.9 464.6,179.1 464.9,178.3 465.3,177.4 465.7,176.6 466.1,175.7 466.1,175.7 466.5,174.9 466.8,174.1 467.1,173.4 467.5,172.7 467.8,172.0 468.2,171.3 468.7,170.5 469.3,169.6 470.1,168.6 471.1,167.5 472.3,166.3 473.7,165.0 473.7,165.0 478.5,161.4 485.3,156.5 488.0,154.5 488.0,154.5 487.3,154.8 485.9,155.6 483.8,156.8 481.2,158.2 478.3,159.9 475.1,161.6 471.8,163.2 468.5,164.8 465.5,166.2 462.8,167.3 462.0,167.6 460.5,168.2 458.0,169.0 455.7,169.8 453.7,170.4 452.3,170.6 452.3,170.6 451.3,170.6 450.3,170.6 449.3,170.6 448.4,170.5 447.5,170.4 446.6,170.2 445.8,170.0 445.0,169.8 444.3,169.6 443.6,169.3 443.0,169.0 442.5,168.7 442.0,168.3 441.5,167.9 441.1,167.5 440.8,167.1 440.5,166.6 440.3,166.2 440.3,166.1 440.2,165.7 440.0,165.2 439.9,164.7 439.7,164.2 439.6,163.7 439.5,163.2 439.3,162.7 439.2,162.2 439.1,161.7 439.0,161.2 438.9,160.7 438.8,160.1 438.7,159.6 438.6,159.1 438.5,158.6 438.4,158.1 438.3,157.6 438.2,157.1 438.1,156.6 438.1,156.1 438.0,155.5 438.0,155.5 438.0,155.0 438.0,154.5 438.0,154.0 438.1,153.5 438.2,152.9 438.4,152.4 438.6,151.9 438.8,151.3 439.0,150.8 439.3,150.3 439.6,149.8 439.9,149.3 440.2,148.8 440.6,148.3 440.9,147.8 441.2,147.4 441.3,147.3 441.6,146.9 442.1,146.4 442.6,145.9 443.2,145.5 443.8,145.0 444.4,144.6 445.1,144.2 445.8,143.8 446.5,143.4 447.3,143.1 447.9,142.8 448.1,142.7 448.8,142.4 449.4,142.0 450.0,141.7 450.8,141.4 451.8,141.1 453.0,140.9 454.6,140.8 455.5,140.8 459.0,141.2 473.3,143.7 486.5,146.1 488.5,146.5 488.2,146.4 486.0,145.8 482.4,144.9 478.4,143.8 474.6,142.7 471.8,141.8 470.9,141.3 471.0,141.3 479.9,143.5 485.2,144.9 485.2,144.9 484.8,144.6 483.8,144.2 482.3,143.6 480.5,142.9 478.2,142.0 475.8,141.0 473.1,139.8 470.3,138.6 467.5,137.2 464.6,135.8 461.9,134.4 459.3,133.0 456.9,131.7 454.7,130.3 453.0,129.1 451.6,128.1 451.5,128.0 450.5,127.1 449.5,126.2 448.6,125.2 447.8,124.3 447.1,123.4 446.4,122.5 445.8,121.6 445.2,120.7 444.6,119.8 444.0,118.9 443.4,118.0 443.3,117.8 442.8,117.0 442.3,116.1 441.7,115.1 441.2,114.1 440.7,113.1 440.2,112.2 439.8,111.2 439.4,110.2 439.0,109.2 438.7,108.2 438.4,107.3 438.2,106.6 438.1,106.3 437.9,105.4 437.6,104.4 437.3,103.3 437.0,102.3 436.8,101.3 436.6,100.3 436.4,99.3 436.4,98.3 436.4,97.5 436.5,96.7 436.8,96.0 437.1,95.4 437.2,95.3 437.6,94.9 438.1,94.3 438.6,93.8 439.1,93.3 439.6,92.9 440.1,92.4 440.6,91.9 441.1,91.4 441.6,91.0 442.2,90.5 442.7,90.1 443.3,89.7 443.8,89.3 444.4,88.9 445.0,88.5 445.5,88.1 446.1,87.7 446.1,87.7 446.8,87.3 447.4,87.1 448.1,86.9 448.9,86.7 449.7,86.7 450.6,86.7 451.4,86.7 452.4,86.8 453.3,87.0 454.2,87.2 454.3,87.2 455.3,87.6 456.6,88.3 458.0,89.3 459.5,90.5 460.4,91.2 461.0,91.6 462.3,92.6 463.7,93.9 465.5,95.8 467.6,98.4 468.4,99.5 474.7,109.6 474.8,109.6 475.3,109.8 475.7,109.7 476.1,109.6 476.5,109.4 476.8,109.3 477.3,109.4 477.8,109.6 478.8,111.5 487.5,128.8 485.0,123.4 477.5,107.1 473.7,98.4 473.2,97.0 471.8,92.7 470.9,89.5 470.7,88.7 470.0,86.0 469.2,82.6 468.5,79.2 467.9,76.0 467.5,73.1 467.2,70.6 467.2,69.0 467.2,68.4 467.3,66.5 467.5,64.7 467.7,63.0 468.0,61.5 468.4,60.0 468.8,58.7 469.3,57.3 469.8,56.0 469.9,55.7 470.3,54.8 470.8,53.6 471.4,52.4 472.0,51.3 472.7,50.3 473.3,49.3 474.0,48.3 474.7,47.3 475.4,46.3 475.6,46.1 476.2,45.3 476.9,44.3 477.7,43.3 478.4,42.3 479.2,41.3 480.0,40.3 480.9,39.4 481.7,38.6 482.6,37.8 483.5,37.1 484.4,36.6 485.2,36.3 485.4,36.2 486.3,35.9 487.3,35.6 488.3,35.3 489.3,35.1 490.2,34.8 491.2,34.6 492.2,34.4 493.2,34.3 494.2,34.1 495.2,34.0 496.2,33.9Z" fill="none" stroke="#0000ff" stroke-width="2" stroke-linejoin="round"/><path d="M497.2,29.5L501.1,37.1L493.3,37.1Z" fill="#0000ff"/><path d="M520.3,35.6L524.2,43.2L516.4,43.2Z" fill="#0000ff"/><path d="M535.6,58.0L539.5,65.6L531.7,65.6Z" fill="#0000ff"/><path d="M531.2,97.2L535.1,104.8L527.3,104.8Z" fill="#0000ff"/><path d="M560.7,86.9L564.6,94.5L556.8,94.5Z" fill="#0000ff"/><path d="M572.1,100.8L576.0,108.4L568.2,108.4Z" fill="#0000ff"/><path d="M573.3,119.3L577.2,126.9L569.4,126.9Z" fill="#0000ff"/><path d="M567.5,136.5L571.4,144.1L563.5,144.1Z" fill="#0000ff"/><path d="M560.5,150.5L564.4,158.1L556.5,158.1Z" fill="#0000ff"/><path d="M562.0,164.9L565.9,172.5L558.0,172.5Z" fill="#0000ff"/><path d="M563.5,182.0L567.4,189.6L559.5,189.6Z" fill="#0000ff"/><path d="M555.3,196.0L559.2,203.6L551.4,203.6Z" fill="#0000ff"/><path d="M535.0,195.7L538.9,203.3L531.1,203.3Z" fill="#0000ff"/><path d="M523.6,203.0L527.5,210.6L519.7,210.6Z" fill="#0000ff"/><path d="M515.1,227.9L519.1,235.5L511.2,235.5Z" fill="#0000ff"/><path d="M497.2,229.4L501.1,237.0L493.3,237.0Z" fill="#0000ff"/><path d="M482.5,212.8L486.4,220.4L478.6,220.4Z" fill="#0000ff"/><path d="M473.8,196.3L477.7,203.9L469.9,203.9Z" fill="#0000ff"/><path d="M465.0,188.1L468.9,195.7L461.1,195.7Z" fill="#0000ff"/><path d="M465.7,172.2L469.6,179.8L461.8,179.8Z" fill="#0000ff"/><path d="M468.5,160.4L472.4,168.0L464.6,168.0Z" fill="#0000ff"/><path d="M440.5,162.2L444.4,169.8L436.6,169.8Z" fill="#0000ff"/><path d="M438.0,150.1L441.9,157.7L434.0,157.7Z" fill="#0000ff"/><path d="M447.3,138.7L451.2,146.3L443.4,146.3Z" fill="#0000ff"/><path d="M480.5,138.5L484.4,146.1L476.5,146.1Z" fill="#0000ff"/><path d="M442.8,112.6L446.8,120.2L438.9,120.2Z" fill="#0000ff"/><path d="M437.6,90.5L441.5,98.1L433.7,98.1Z" fill="#0000ff"/><path d="M452.4,82.4L456.3,90.0L448.4,90.0Z" fill="#0000ff"/><path d="M470.9,85.1L474.8,92.7L467.0,92.7Z" fill="#0000ff"/><path d="M475.4,41.9L479.4,49.5L471.5,49.5Z" fill="#0000ff"/><path d="M497.2,133.4 497.5,133.6 497.7,134.4 497.9,135.6 498.0,137.0 498.1,138.6 498.1,140.2 498.0,141.8 497.9,143.2 497.8,144.3 497.8,145.1 497.8,145.4 497.9,145.1 498.1,144.5 498.4,143.5 498.8,142.2 499.3,140.9 499.9,139.5 500.5,138.2 501.1,137.0 501.7,136.1 502.1,135.5 502.4,135.4 502.6,135.7 502.5,136.4 502.3,137.3 502.0,138.5 501.5,139.8 501.0,141.1 500.5,142.4 499.9,143.6 499.4,144.6 499.1,145.3 498.9,145.7 498.9,145.8 498.9,145.7 499.4,145.2 500.2,144.1 501.4,142.7 502.8,141.1 504.4,139.5 506.0,137.8 507.7,136.3 509.2,135.0 510.5,134.1 511.5,133.5 512.0,133.5 512.0,134.0 511.5,135.0 510.6,136.3 509.3,137.9 507.7,139.5 506.1,141.1 504.4,142.7 502.8,144.1 501.4,145.3 500.3,146.1 499.8,146.6 499.7,146.7 499.8,146.6 500.6,146.2 502.0,145.5 503.8,144.5 506.1,143.4 508.5,142.3 511.0,141.3 513.5,140.4 515.7,139.7 517.6,139.3 518.9,139.1 519.5,139.3 518.9,140.0 517.3,141.0 514.7,142.3 511.7,143.6 508.4,144.9 505.3,146.0 502.7,146.8 500.8,147.4 500.1,147.6 501.3,147.4 504.5,146.9 509.1,146.2 514.6,145.6 520.4,145.1 525.9,144.8 530.6,144.8 533.9,145.1 535.1,145.7 533.6,146.4 529.7,147.2 524.1,147.8 517.7,148.3 511.3,148.5 505.7,148.6 501.7,148.5 500.2,148.5 501.1,148.6 503.6,149.0 507.1,149.5 511.1,150.2 515.0,151.1 518.4,152.0 520.8,152.9 521.7,153.5 521.1,153.8 519.6,153.9 517.5,153.7 514.9,153.3 512.0,152.8 509.1,152.1 506.3,151.4 503.8,150.7 501.8,150.1 500.5,149.6 500.0,149.5 500.2,149.6 500.8,150.0 501.7,150.5 502.8,151.2 504.0,151.9 505.3,152.8 506.5,153.6 507.5,154.5 508.3,155.2 508.7,155.8 508.8,156.1 508.5,156.2 508.1,156.2 507.4,156.0 506.6,155.6 505.7,155.2 504.8,154.6 503.8,154.0 502.9,153.4 502.0,152.7 501.2,152.1 500.5,151.5 499.9,151.1 499.5,150.7 499.2,150.5 499.2,150.5 499.3,150.7 500.1,151.8 501.7,153.9 503.8,156.8 506.3,160.3 509.0,164.5 511.8,169.0 514.5,173.8 517.0,178.6 519.2,183.3 521.0,187.7 522.3,191.5 523.0,194.7 523.2,196.9 522.6,198.0 521.5,197.9 519.9,196.8 518.0,194.8 515.8,192.1 513.6,188.7 511.3,184.8 509.0,180.5 506.8,176.1 504.8,171.6 503.0,167.1 501.4,162.9 500.1,159.2 499.1,155.9 498.4,153.4 497.9,151.8 497.8,151.2 497.7,151.4 497.7,151.7 497.7,152.2 497.8,152.8 497.8,153.6 497.7,154.4 497.7,155.3 497.6,156.3 497.5,157.2 497.4,158.1 497.2,158.9 497.0,159.7 496.8,160.3 496.5,160.8 496.3,161.1 496.1,161.2 495.9,161.1 495.7,160.8 495.5,160.3 495.4,159.6 495.3,158.9 495.3,158.1 495.3,157.2 495.3,156.3 495.4,155.4 495.5,154.5 495.7,153.7 495.8,152.9 495.9,152.2 496.0,151.7 496.1,151.3 496.1,151.1 496.1,151.1 496.1,151.1 495.9,151.4 495.6,151.9 495.1,152.7 494.6,153.6 494.0,154.6 493.2,155.8 492.4,156.9 491.5,158.1 490.6,159.2 489.7,160.3 488.8,161.2 487.9,162.0 487.1,162.7 486.4,163.1 485.9,163.3 485.5,163.2 485.4,162.8 485.6,162.1 486.0,161.2 486.6,160.0 487.4,158.7 488.4,157.4 489.4,156.0 490.5,154.7 491.6,153.5 492.6,152.4 493.5,151.5 494.2,150.8 494.7,150.3 494.8,150.1 494.7,150.2 494.4,150.3 493.9,150.6 493.2,151.0 492.5,151.4 491.7,151.8 490.8,152.1 489.9,152.5 489.0,152.8 488.2,153.1 487.5,153.2 486.9,153.3 486.4,153.3 486.2,153.2 486.3,152.9 486.6,152.6 487.1,152.1 487.8,151.7 488.7,151.2 489.6,150.8 490.5,150.3 491.5,149.9 492.3,149.6 493.1,149.3 493.7,149.1 494.1,149.0 494.3,148.9 494.1,148.8 493.7,148.8 493.2,148.9 492.4,148.9 491.6,148.9 490.7,148.9 489.8,148.8 488.9,148.7 488.0,148.6 487.3,148.5 486.7,148.3 486.3,148.1 486.2,147.9 486.3,147.7 486.7,147.6 487.3,147.4 488.1,147.3 488.9,147.3 489.8,147.3 490.7,147.3 491.6,147.3 492.5,147.4 493.2,147.5 493.8,147.5 494.2,147.5 494.3,147.5 494.1,147.4 493.6,147.2 492.8,146.9 491.8,146.4 490.7,145.9 489.4,145.3 488.2,144.7 487.0,144.0 486.0,143.3 485.1,142.7 484.4,142.1 484.0,141.6 484.0,141.3 484.4,141.3 485.5,141.6 487.0,142.2 488.7,143.0 490.5,144.0 492.1,144.9 493.5,145.7 494.4,146.3 494.8,146.5 494.3,146.1 493.1,145.0 491.3,143.4 489.3,141.4 487.2,139.3 485.3,137.2 483.7,135.3 482.8,133.9 482.6,133.3 483.2,133.3 484.2,133.9 485.6,135.0 487.2,136.4 488.9,138.1 490.6,139.8 492.1,141.6 493.5,143.2 494.6,144.6 495.3,145.5 495.6,145.8 495.5,145.6 495.2,145.0 494.8,144.1 494.3,143.1 493.8,141.9 493.3,140.6 492.8,139.4 492.5,138.2 492.3,137.3 492.2,136.6 492.3,136.3 492.6,136.4 493.1,136.9 493.6,137.8 494.1,138.8 494.7,140.0 495.2,141.3 495.6,142.5 496.0,143.6 496.3,144.5 496.5,145.2 496.6,145.4 496.6,145.1 496.6,144.3 496.5,143.2 496.4,141.8 496.3,140.2 496.3,138.6 496.4,137.0 496.5,135.6 496.7,134.4 496.9,133.6Z" fill="none" stroke="#00ffff" stroke-width="1.2" stroke-linejoin="round" stroke-dasharray="4 2 1 2"/><path d="M497.2,130.3L499.6,133.4L497.2,136.4L494.8,133.4Z" fill="none" stroke="#00ffff" stroke-width="1.1"/><path d="M497.9,142.1L500.3,145.1L497.9,148.2L495.4,145.1Z" fill="none" stroke="#00ffff" stroke-width="1.1"/><path d="M502.5,133.3L505.0,136.4L502.5,139.4L500.1,136.4Z" fill="none" stroke="#00ffff" stroke-width="1.1"/><path d="M500.2,141.1L502.7,144.1L500.2,147.2L497.8,144.1Z" fill="none" stroke="#00ffff" stroke-width="1.1"/><path d="M510.6,133.3L513.0,136.3L510.6,139.4L508.1,136.3Z" fill="none" stroke="#00ffff" stroke-width="1.1"/><path d="M503.8,141.4L506.3,144.5L503.8,147.5L501.4,144.5Z" fill="none" stroke="#00ffff" stroke-width="1.1"/><path d="M511.7,140.5L514.1,143.6L511.7,146.7L509.2,143.6Z" fill="none" stroke="#00ffff" stroke-width="1.1"/><path d="M530.6,141.7L533.0,144.8L530.6,147.9L528.2,144.8Z" fill="none" stroke="#00ffff" stroke-width="1.1"/><path d="M503.6,145.9L506.1,149.0L503.6,152.0L501.2,149.0Z" fill="none" stroke="#00ffff" stroke-width="1.1"/><path d="M509.1,149.1L511.5,152.1L509.1,155.2L506.6,152.1Z" fill="none" stroke="#00ffff" stroke-width="1.1"/><path d="M506.5,150.6L508.9,153.6L506.5,156.7L504.0,153.6Z" fill="none" stroke="#00ffff" stroke-width="1.1"/><path d="M502.9,150.3L505.3,153.4L502.9,156.5L500.4,153.4Z" fill="none" stroke="#00ffff" stroke-width="1.1"/><path d="M509.0,161.4L511.5,164.5L509.0,167.6L506.6,164.5Z" fill="none" stroke="#00ffff" stroke-width="1.1"/><path d="M518.0,191.7L520.4,194.8L518.0,197.9L515.5,194.8Z" fill="none" stroke="#00ffff" stroke-width="1.1"/><path d="M497.9,148.7L500.4,151.8L497.9,154.9L495.5,151.8Z" fill="none" stroke="#00ffff" stroke-width="1.1"/><path d="M497.2,155.9L499.6,158.9L497.2,162.0L494.8,158.9Z" fill="none" stroke="#00ffff" stroke-width="1.1"/><path d="M495.3,154.1L497.8,157.2L495.3,160.3L492.9,157.2Z" fill="none" stroke="#00ffff" stroke-width="1.1"/><path d="M495.6,148.9L498.0,151.9L495.6,155.0L493.1,151.9Z" fill="none" stroke="#00ffff" stroke-width="1.1"/><path d="M486.4,160.0L488.9,163.1L486.4,166.1L484.0,163.1Z" fill="none" stroke="#00ffff" stroke-width="1.1"/><path d="M492.6,149.4L495.1,152.4L492.6,155.5L490.2,152.4Z" fill="none" stroke="#00ffff" stroke-width="1.1"/><path d="M489.9,149.5L492.3,152.5L489.9,155.6L487.4,152.5Z" fill="none" stroke="#00ffff" stroke-width="1.1"/><path d="M489.6,147.7L492.0,150.8L489.6,153.8L487.1,150.8Z" fill="none" stroke="#00ffff" stroke-width="1.1"/><path d="M491.6,145.8L494.0,148.9L491.6,151.9L489.1,148.9Z" fill="none" stroke="#00ffff" stroke-width="1.1"/><path d="M488.1,144.3L490.5,147.3L488.1,150.4L485.6,147.3Z" fill="none" stroke="#00ffff" stroke-width="1.1"/><path d="M492.8,143.8L495.3,146.9L492.8,149.9L490.4,146.9Z" fill="none" stroke="#00ffff" stroke-width="1.1"/><path d="M485.5,138.5L488.0,141.6L485.5,144.6L483.1,141.6Z" fill="none" stroke="#00ffff" stroke-width="1.1"/><path d="M487.2,136.2L489.6,139.3L487.2,142.4L484.7,139.3Z" fill="none" stroke="#00ffff" stroke-width="1.1"/><path d="M493.5,140.2L496.0,143.2L493.5,146.3L491.1,143.2Z" fill="none" stroke="#00ffff" stroke-width="1.1"/><path d="M492.3,134.2L494.7,137.3L492.3,140.3L489.8,137.3Z" fill="none" stroke="#00ffff" stroke-width="1.1"/><path d="M496.5,142.1L499.0,145.2L496.5,148.2L494.1,145.2Z" fill="none" stroke="#00ffff" stroke-width="1.1"/><rect x="542.6" y="211.2" width="140.6" height="72.9" fill="#fff" stroke="#262626" stroke-width="1"/><line x1="544.6" y1="220.7" x2="565.2" y2="220.7" stroke="#ff0000" stroke-width="2"/><circle cx="554.80" cy="220.70" r="3.00" fill="#ff0000"/><text x="567.6" y="226.0" font-family="Liberation Sans, Arial, sans-serif" font-size="14.2" fill="#000" textLength="84.0" lengthAdjust="spacingAndGlyphs">Co-pol (<tspan font-family="Liberation Serif, serif">&#934;</tspan>=0&#176;)</text><line x1="544.6" y1="238.5" x2="565.2" y2="238.5" stroke="#ff00ff" stroke-width="1.6" stroke-dasharray="3.7 13.2 3.7"/><rect x="552.6" y="236.3" width="4.4" height="4.4" fill="#ff00ff"/><text x="567.6" y="243.8" font-family="Liberation Sans, Arial, sans-serif" font-size="14.2" fill="#000" textLength="101.3" lengthAdjust="spacingAndGlyphs">Cross-pol (<tspan font-family="Liberation Serif, serif">&#934;</tspan>=0&#176;)</text><line x1="544.6" y1="256.5" x2="565.2" y2="256.5" stroke="#0000ff" stroke-width="2"/><path d="M554.80,252.50L558.80,259.50L550.80,259.50Z" fill="#0000ff"/><text x="567.6" y="261.8" font-family="Liberation Sans, Arial, sans-serif" font-size="14.2" fill="#000" textLength="91.8" lengthAdjust="spacingAndGlyphs">Co-pol (<tspan font-family="Liberation Serif, serif">&#934;</tspan>=90&#176;)</text><line x1="544.6" y1="274.2" x2="565.2" y2="274.2" stroke="#00ffff" stroke-width="1.6" stroke-dasharray="4.2 12.2 4.2"/><path d="M554.7,271.3L557.1,274.2L554.7,277.1L552.3,274.2Z" fill="#9ff" stroke="#00ffff" stroke-width="1.5"/><text x="567.6" y="279.5" font-family="Liberation Sans, Arial, sans-serif" font-size="14.2" fill="#000" textLength="108.3" lengthAdjust="spacingAndGlyphs">Cross-pol (<tspan font-family="Liberation Serif, serif">&#934;</tspan>=90&#176;)</text><g font-family="Liberation Sans, Arial, sans-serif" font-weight="bold" font-size="17.6" fill="#000" letter-spacing="0.75"><text x="144.6" y="318.2">(a)</text><text x="481.2" y="318.1">(b)</text></g>
</svg></body></html>
